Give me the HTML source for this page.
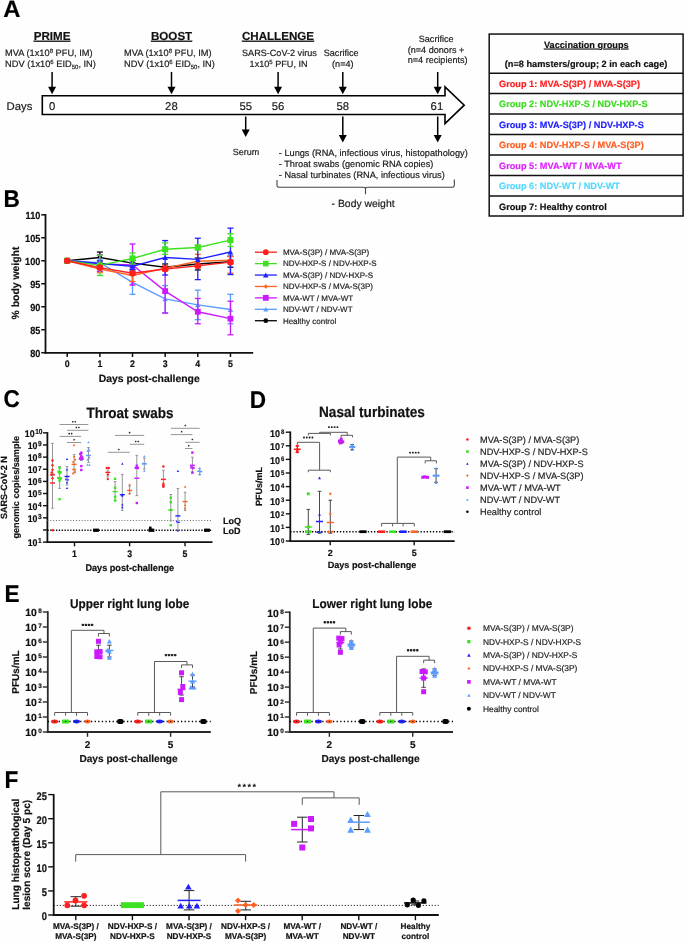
<!DOCTYPE html>
<html><head><meta charset="utf-8"><style>
html,body{margin:0;padding:0;background:#fff;}
svg{display:block;font-family:"Liberation Sans", sans-serif;will-change:transform;text-rendering:geometricPrecision;}
</style></head><body>
<svg width="685" height="942" viewBox="0 0 685 942">
<rect x="0" y="0" width="685" height="942" fill="#fefefe"/>
<text x="3.20" y="17.40" font-size="23.8" font-weight="bold" stroke="#000" stroke-width="0.18" text-anchor="start" fill="#000" >A</text>
<text x="52.10" y="39.70" font-size="11.6" font-weight="bold" stroke="#111" stroke-width="0.18" text-anchor="middle" fill="#111" text-decoration="underline">PRIME</text>
<text x="171.60" y="39.70" font-size="11.6" font-weight="bold" stroke="#111" stroke-width="0.18" text-anchor="middle" fill="#111" text-decoration="underline">BOOST</text>
<text x="278.00" y="39.70" font-size="11.6" font-weight="bold" stroke="#111" stroke-width="0.18" text-anchor="middle" fill="#111" text-decoration="underline">CHALLENGE</text>
<text x="5.10" y="56.20" font-size="9.25" stroke="#1a1a1a" stroke-width="0.18" text-anchor="start" fill="#1a1a1a" >MVA (1x10<tspan font-size="6" dy="-3.3">8</tspan><tspan dy="3.3"> PFU, IM)</tspan></text>
<text x="5.10" y="67.20" font-size="9.25" stroke="#1a1a1a" stroke-width="0.18" text-anchor="start" fill="#1a1a1a" >NDV (1x10<tspan font-size="6" dy="-3.3">6</tspan><tspan dy="3.3"> EID</tspan><tspan font-size="6" dy="2">50</tspan><tspan dy="-2">, IN)</tspan></text>
<text x="124.10" y="56.20" font-size="9.25" stroke="#1a1a1a" stroke-width="0.18" text-anchor="start" fill="#1a1a1a" >MVA (1x10<tspan font-size="6" dy="-3.3">8</tspan><tspan dy="3.3"> PFU, IM)</tspan></text>
<text x="124.10" y="67.20" font-size="9.25" stroke="#1a1a1a" stroke-width="0.18" text-anchor="start" fill="#1a1a1a" >NDV (1x10<tspan font-size="6" dy="-3.3">6</tspan><tspan dy="3.3"> EID</tspan><tspan font-size="6" dy="2">50</tspan><tspan dy="-2">, IN)</tspan></text>
<text x="242.00" y="56.20" font-size="9.1" stroke="#1a1a1a" stroke-width="0.18" text-anchor="start" fill="#1a1a1a" >SARS-CoV-2 virus</text>
<text x="249.60" y="67.20" font-size="9.1" stroke="#1a1a1a" stroke-width="0.18" text-anchor="start" fill="#1a1a1a" >1x10<tspan font-size="6" dy="-3.3">5</tspan><tspan dy="3.3"> PFU, IN</tspan></text>
<text x="341.20" y="56.30" font-size="9.1" stroke="#1a1a1a" stroke-width="0.18" text-anchor="middle" fill="#1a1a1a" >Sacrifice</text>
<text x="342.80" y="67.20" font-size="9.1" stroke="#1a1a1a" stroke-width="0.18" text-anchor="middle" fill="#1a1a1a" >(n=4)</text>
<text x="436.20" y="42.20" font-size="9.1" stroke="#1a1a1a" stroke-width="0.18" text-anchor="middle" fill="#1a1a1a" >Sacrifice</text>
<text x="436.00" y="52.90" font-size="9.1" stroke="#1a1a1a" stroke-width="0.18" text-anchor="middle" fill="#1a1a1a" >(n=4 donors +</text>
<text x="437.70" y="63.40" font-size="9.1" stroke="#1a1a1a" stroke-width="0.18" text-anchor="middle" fill="#1a1a1a" >n=4 recipients)</text>
<line x1="52.10" y1="72.00" x2="52.10" y2="87.70" stroke="#000" stroke-width="1.5" />
<path d="M48.10,86.70 L56.10,86.70 L52.10,94.20 Z" fill="#000"/>
<line x1="171.50" y1="72.00" x2="171.50" y2="87.70" stroke="#000" stroke-width="1.5" />
<path d="M167.50,86.70 L175.50,86.70 L171.50,94.20 Z" fill="#000"/>
<line x1="278.10" y1="72.00" x2="278.10" y2="87.70" stroke="#000" stroke-width="1.5" />
<path d="M274.10,86.70 L282.10,86.70 L278.10,94.20 Z" fill="#000"/>
<line x1="342.80" y1="72.00" x2="342.80" y2="87.70" stroke="#000" stroke-width="1.5" />
<path d="M338.80,86.70 L346.80,86.70 L342.80,94.20 Z" fill="#000"/>
<line x1="437.70" y1="72.00" x2="437.70" y2="87.70" stroke="#000" stroke-width="1.5" />
<path d="M433.70,86.70 L441.70,86.70 L437.70,94.20 Z" fill="#000"/>
<path d="M42.3,95.7 L445,95.7 L445,86.9 L464.2,105.2 L445,123.6 L445,114.5 L42.3,114.5 Z" stroke="#000" stroke-width="1.6" fill="#fff" />
<text x="6.60" y="109.60" font-size="11.3" stroke="#1a1a1a" stroke-width="0.18" text-anchor="start" fill="#1a1a1a" >Days</text>
<text x="52.10" y="109.60" font-size="11.3" stroke="#1a1a1a" stroke-width="0.18" text-anchor="middle" fill="#1a1a1a" >0</text>
<text x="171.40" y="109.60" font-size="11.3" stroke="#1a1a1a" stroke-width="0.18" text-anchor="middle" fill="#1a1a1a" >28</text>
<text x="245.70" y="109.60" font-size="11.3" stroke="#1a1a1a" stroke-width="0.18" text-anchor="middle" fill="#1a1a1a" >55</text>
<text x="278.00" y="109.60" font-size="11.3" stroke="#1a1a1a" stroke-width="0.18" text-anchor="middle" fill="#1a1a1a" >56</text>
<text x="342.80" y="109.60" font-size="11.3" stroke="#1a1a1a" stroke-width="0.18" text-anchor="middle" fill="#1a1a1a" >58</text>
<text x="436.90" y="109.60" font-size="11.3" stroke="#1a1a1a" stroke-width="0.18" text-anchor="middle" fill="#1a1a1a" >61</text>
<line x1="245.70" y1="116.50" x2="245.70" y2="130.50" stroke="#000" stroke-width="1.5" />
<path d="M241.70,129.50 L249.70,129.50 L245.70,137.00 Z" fill="#000"/>
<line x1="342.80" y1="116.50" x2="342.80" y2="136.00" stroke="#000" stroke-width="1.5" />
<path d="M338.80,135.00 L346.80,135.00 L342.80,142.50 Z" fill="#000"/>
<line x1="437.70" y1="116.50" x2="437.70" y2="136.00" stroke="#000" stroke-width="1.5" />
<path d="M433.70,135.00 L441.70,135.00 L437.70,142.50 Z" fill="#000"/>
<text x="245.90" y="155.10" font-size="9.0" stroke="#1a1a1a" stroke-width="0.18" text-anchor="middle" fill="#1a1a1a" >Serum</text>
<text x="278.80" y="156.00" font-size="9.2" stroke="#1a1a1a" stroke-width="0.18" text-anchor="start" fill="#1a1a1a" >- Lungs (RNA, infectious virus, histopathology)</text>
<text x="278.80" y="167.20" font-size="9.2" stroke="#1a1a1a" stroke-width="0.18" text-anchor="start" fill="#1a1a1a" >- Throat swabs (genomic RNA copies)</text>
<text x="278.80" y="178.20" font-size="9.2" stroke="#1a1a1a" stroke-width="0.18" text-anchor="start" fill="#1a1a1a" >- Nasal turbinates (RNA, infectious virus)</text>
<path d="M277,180 L277,185.5 Q277,187.2 279,187.2 L363.5,187.2 Q365.5,187.2 365.5,189 L365.5,194.2 M365.5,189 Q365.5,187.2 367.5,187.2 L452.3,187.2 Q454.3,187.2 454.3,185.5 L454.3,179.6" stroke="#444" stroke-width="1.1" fill="none" />
<text x="331.60" y="207.10" font-size="10.4" stroke="#1a1a1a" stroke-width="0.18" text-anchor="start" fill="#1a1a1a" >- Body weight</text>
<rect x="489.20" y="34.05" width="193.90" height="181.95" fill="none" stroke="#111" stroke-width="1.5" />
<text x="586.30" y="47.60" font-size="9.2" font-weight="bold" stroke="#111" stroke-width="0.18" text-anchor="middle" fill="#111" text-decoration="underline">Vaccination groups</text>
<text x="586.10" y="66.60" font-size="9.2" font-weight="bold" stroke="#111" stroke-width="0.18" text-anchor="middle" fill="#111" >(n=8 hamsters/group; 2 in each cage)</text>
<line x1="489.20" y1="73.20" x2="683.10" y2="73.20" stroke="#111" stroke-width="1.5" />
<line x1="489.20" y1="93.60" x2="683.10" y2="93.60" stroke="#111" stroke-width="1.5" />
<line x1="489.20" y1="114.10" x2="683.10" y2="114.10" stroke="#111" stroke-width="1.5" />
<line x1="489.20" y1="134.60" x2="683.10" y2="134.60" stroke="#111" stroke-width="1.5" />
<line x1="489.20" y1="155.00" x2="683.10" y2="155.00" stroke="#111" stroke-width="1.5" />
<line x1="489.20" y1="175.50" x2="683.10" y2="175.50" stroke="#111" stroke-width="1.5" />
<line x1="489.20" y1="195.90" x2="683.10" y2="195.90" stroke="#111" stroke-width="1.5" />
<text x="499.00" y="87.00" font-size="9.2" font-weight="bold" stroke="#ff1f1f" stroke-width="0.18" text-anchor="start" fill="#ff1f1f" >Group 1: MVA-S(3P) / MVA-S(3P)</text>
<text x="499.00" y="107.40" font-size="9.2" font-weight="bold" stroke="#3ddc22" stroke-width="0.18" text-anchor="start" fill="#3ddc22" >Group 2: NDV-HXP-S / NDV-HXP-S</text>
<text x="499.00" y="127.90" font-size="9.2" font-weight="bold" stroke="#1f1fff" stroke-width="0.18" text-anchor="start" fill="#1f1fff" >Group 3: MVA-S(3P) / NDV-HXP-S</text>
<text x="499.00" y="148.40" font-size="9.2" font-weight="bold" stroke="#ff5f22" stroke-width="0.18" text-anchor="start" fill="#ff5f22" >Group 4: NDV-HXP-S / MVA-S(3P)</text>
<text x="499.00" y="168.80" font-size="9.2" font-weight="bold" stroke="#dd22ff" stroke-width="0.18" text-anchor="start" fill="#dd22ff" >Group 5: MVA-WT / MVA-WT</text>
<text x="499.00" y="189.30" font-size="9.2" font-weight="bold" stroke="#55d8ff" stroke-width="0.18" text-anchor="start" fill="#55d8ff" >Group 6: NDV-WT / NDV-WT</text>
<text x="499.00" y="209.70" font-size="9.2" font-weight="bold" stroke="#111" stroke-width="0.18" text-anchor="start" fill="#111" >Group 7: Healthy control</text>
<text x="0" y="0" transform="translate(3.60,206.60) scale(1,1.07)" font-size="22.6" font-weight="bold" stroke="#000" stroke-width="0.18" text-anchor="start" fill="#000" >B</text>
<line x1="45.50" y1="214.00" x2="45.50" y2="353.60" stroke="#111" stroke-width="1.8" />
<line x1="44.60" y1="352.90" x2="253.20" y2="352.90" stroke="#111" stroke-width="1.8" />
<line x1="41.20" y1="352.70" x2="45.50" y2="352.70" stroke="#111" stroke-width="1.5" />
<text x="0" y="0" transform="translate(40.30,356.77) scale(1,1.12)" font-size="9.15" font-weight="bold" stroke="#111" stroke-width="0.18" text-anchor="end" fill="#111" >80</text>
<line x1="41.20" y1="329.72" x2="45.50" y2="329.72" stroke="#111" stroke-width="1.5" />
<text x="0" y="0" transform="translate(40.30,333.79) scale(1,1.12)" font-size="9.15" font-weight="bold" stroke="#111" stroke-width="0.18" text-anchor="end" fill="#111" >85</text>
<line x1="41.20" y1="306.74" x2="45.50" y2="306.74" stroke="#111" stroke-width="1.5" />
<text x="0" y="0" transform="translate(40.30,310.81) scale(1,1.12)" font-size="9.15" font-weight="bold" stroke="#111" stroke-width="0.18" text-anchor="end" fill="#111" >90</text>
<line x1="41.20" y1="283.76" x2="45.50" y2="283.76" stroke="#111" stroke-width="1.5" />
<text x="0" y="0" transform="translate(40.30,287.83) scale(1,1.12)" font-size="9.15" font-weight="bold" stroke="#111" stroke-width="0.18" text-anchor="end" fill="#111" >95</text>
<line x1="41.20" y1="260.78" x2="45.50" y2="260.78" stroke="#111" stroke-width="1.5" />
<text x="0" y="0" transform="translate(40.30,264.85) scale(1,1.12)" font-size="9.15" font-weight="bold" stroke="#111" stroke-width="0.18" text-anchor="end" fill="#111" >100</text>
<line x1="41.20" y1="237.80" x2="45.50" y2="237.80" stroke="#111" stroke-width="1.5" />
<text x="0" y="0" transform="translate(40.30,241.87) scale(1,1.12)" font-size="9.15" font-weight="bold" stroke="#111" stroke-width="0.18" text-anchor="end" fill="#111" >105</text>
<line x1="41.20" y1="214.82" x2="45.50" y2="214.82" stroke="#111" stroke-width="1.5" />
<text x="0" y="0" transform="translate(40.30,218.89) scale(1,1.12)" font-size="9.15" font-weight="bold" stroke="#111" stroke-width="0.18" text-anchor="end" fill="#111" >110</text>
<line x1="67.20" y1="352.90" x2="67.20" y2="357.00" stroke="#111" stroke-width="1.5" />
<text x="0" y="0" transform="translate(67.20,366.80) scale(1,1.08)" font-size="8.8" font-weight="bold" stroke="#111" stroke-width="0.18" text-anchor="middle" fill="#111" >0</text>
<line x1="99.85" y1="352.90" x2="99.85" y2="357.00" stroke="#111" stroke-width="1.5" />
<text x="0" y="0" transform="translate(99.85,366.80) scale(1,1.08)" font-size="8.8" font-weight="bold" stroke="#111" stroke-width="0.18" text-anchor="middle" fill="#111" >1</text>
<line x1="132.50" y1="352.90" x2="132.50" y2="357.00" stroke="#111" stroke-width="1.5" />
<text x="0" y="0" transform="translate(132.50,366.80) scale(1,1.08)" font-size="8.8" font-weight="bold" stroke="#111" stroke-width="0.18" text-anchor="middle" fill="#111" >2</text>
<line x1="165.15" y1="352.90" x2="165.15" y2="357.00" stroke="#111" stroke-width="1.5" />
<text x="0" y="0" transform="translate(165.15,366.80) scale(1,1.08)" font-size="8.8" font-weight="bold" stroke="#111" stroke-width="0.18" text-anchor="middle" fill="#111" >3</text>
<line x1="197.80" y1="352.90" x2="197.80" y2="357.00" stroke="#111" stroke-width="1.5" />
<text x="0" y="0" transform="translate(197.80,366.80) scale(1,1.08)" font-size="8.8" font-weight="bold" stroke="#111" stroke-width="0.18" text-anchor="middle" fill="#111" >4</text>
<line x1="230.45" y1="352.90" x2="230.45" y2="357.00" stroke="#111" stroke-width="1.5" />
<text x="0" y="0" transform="translate(230.45,366.80) scale(1,1.08)" font-size="8.8" font-weight="bold" stroke="#111" stroke-width="0.18" text-anchor="middle" fill="#111" >5</text>
<text x="149.20" y="382.20" font-size="10.4" font-weight="bold" stroke="#111" stroke-width="0.18" text-anchor="middle" fill="#111" >Days post-challenge</text>
<text x="0.00" y="0.00" font-size="10.4" font-weight="bold" stroke="#111" stroke-width="0.18" text-anchor="middle" fill="#111" transform="translate(19.4,283) rotate(-90)">% body weight</text>
<polyline points="67.20,260.78 99.85,257.56 132.50,263.08 165.15,267.21 197.80,264.00 230.45,261.70" fill="none" stroke="#000" stroke-width="1.4"/>
<line x1="99.85" y1="252.05" x2="99.85" y2="263.08" stroke="#000" stroke-width="1.3" />
<line x1="96.85" y1="252.05" x2="102.85" y2="252.05" stroke="#000" stroke-width="1.3" />
<line x1="96.85" y1="263.08" x2="102.85" y2="263.08" stroke="#000" stroke-width="1.3" />
<line x1="132.50" y1="260.32" x2="132.50" y2="265.84" stroke="#000" stroke-width="1.3" />
<line x1="129.50" y1="260.32" x2="135.50" y2="260.32" stroke="#000" stroke-width="1.3" />
<line x1="129.50" y1="265.84" x2="135.50" y2="265.84" stroke="#000" stroke-width="1.3" />
<line x1="165.15" y1="264.00" x2="165.15" y2="270.43" stroke="#000" stroke-width="1.3" />
<line x1="162.15" y1="264.00" x2="168.15" y2="264.00" stroke="#000" stroke-width="1.3" />
<line x1="162.15" y1="270.43" x2="168.15" y2="270.43" stroke="#000" stroke-width="1.3" />
<line x1="197.80" y1="258.02" x2="197.80" y2="269.97" stroke="#000" stroke-width="1.3" />
<line x1="194.80" y1="258.02" x2="200.80" y2="258.02" stroke="#000" stroke-width="1.3" />
<line x1="194.80" y1="269.97" x2="200.80" y2="269.97" stroke="#000" stroke-width="1.3" />
<line x1="230.45" y1="256.18" x2="230.45" y2="267.21" stroke="#000" stroke-width="1.3" />
<line x1="227.45" y1="256.18" x2="233.45" y2="256.18" stroke="#000" stroke-width="1.3" />
<line x1="227.45" y1="267.21" x2="233.45" y2="267.21" stroke="#000" stroke-width="1.3" />
<circle cx="67.20" cy="260.78" r="2.30" fill="#000"/>
<circle cx="99.85" cy="257.56" r="2.30" fill="#000"/>
<circle cx="132.50" cy="263.08" r="2.30" fill="#000"/>
<circle cx="165.15" cy="267.21" r="2.30" fill="#000"/>
<circle cx="197.80" cy="264.00" r="2.30" fill="#000"/>
<circle cx="230.45" cy="261.70" r="2.30" fill="#000"/>
<polyline points="67.20,260.78 99.85,262.62 132.50,282.38 165.15,298.93 197.80,304.90 230.45,309.50" fill="none" stroke="#5a9cff" stroke-width="1.4"/>
<line x1="99.85" y1="258.94" x2="99.85" y2="266.30" stroke="#5a9cff" stroke-width="1.3" />
<line x1="96.85" y1="258.94" x2="102.85" y2="258.94" stroke="#5a9cff" stroke-width="1.3" />
<line x1="96.85" y1="266.30" x2="102.85" y2="266.30" stroke="#5a9cff" stroke-width="1.3" />
<line x1="132.50" y1="270.43" x2="132.50" y2="294.33" stroke="#5a9cff" stroke-width="1.3" />
<line x1="129.50" y1="270.43" x2="135.50" y2="270.43" stroke="#5a9cff" stroke-width="1.3" />
<line x1="129.50" y1="294.33" x2="135.50" y2="294.33" stroke="#5a9cff" stroke-width="1.3" />
<line x1="165.15" y1="285.60" x2="165.15" y2="312.71" stroke="#5a9cff" stroke-width="1.3" />
<line x1="162.15" y1="285.60" x2="168.15" y2="285.60" stroke="#5a9cff" stroke-width="1.3" />
<line x1="162.15" y1="312.71" x2="168.15" y2="312.71" stroke="#5a9cff" stroke-width="1.3" />
<line x1="197.80" y1="290.19" x2="197.80" y2="319.61" stroke="#5a9cff" stroke-width="1.3" />
<line x1="194.80" y1="290.19" x2="200.80" y2="290.19" stroke="#5a9cff" stroke-width="1.3" />
<line x1="194.80" y1="319.61" x2="200.80" y2="319.61" stroke="#5a9cff" stroke-width="1.3" />
<line x1="230.45" y1="294.33" x2="230.45" y2="323.75" stroke="#5a9cff" stroke-width="1.3" />
<line x1="227.45" y1="294.33" x2="233.45" y2="294.33" stroke="#5a9cff" stroke-width="1.3" />
<line x1="227.45" y1="323.75" x2="233.45" y2="323.75" stroke="#5a9cff" stroke-width="1.3" />
<path d="M64.50,263.21 L69.90,263.21 L67.20,258.35 Z" fill="#5a9cff"/>
<path d="M97.15,265.05 L102.55,265.05 L99.85,260.19 Z" fill="#5a9cff"/>
<path d="M129.80,284.81 L135.20,284.81 L132.50,279.95 Z" fill="#5a9cff"/>
<path d="M162.45,301.36 L167.85,301.36 L165.15,296.50 Z" fill="#5a9cff"/>
<path d="M195.10,307.33 L200.50,307.33 L197.80,302.47 Z" fill="#5a9cff"/>
<path d="M227.75,311.93 L233.15,311.93 L230.45,307.07 Z" fill="#5a9cff"/>
<polyline points="67.20,260.78 99.85,264.00 132.50,264.92 165.15,291.11 197.80,311.80 230.45,318.69" fill="none" stroke="#cc1aff" stroke-width="1.4"/>
<line x1="99.85" y1="254.81" x2="99.85" y2="271.35" stroke="#cc1aff" stroke-width="1.3" />
<line x1="96.85" y1="254.81" x2="102.85" y2="254.81" stroke="#cc1aff" stroke-width="1.3" />
<line x1="96.85" y1="271.35" x2="102.85" y2="271.35" stroke="#cc1aff" stroke-width="1.3" />
<line x1="132.50" y1="244.00" x2="132.50" y2="285.14" stroke="#cc1aff" stroke-width="1.3" />
<line x1="129.50" y1="244.00" x2="135.50" y2="244.00" stroke="#cc1aff" stroke-width="1.3" />
<line x1="129.50" y1="285.14" x2="135.50" y2="285.14" stroke="#cc1aff" stroke-width="1.3" />
<line x1="165.15" y1="269.05" x2="165.15" y2="313.17" stroke="#cc1aff" stroke-width="1.3" />
<line x1="162.15" y1="269.05" x2="168.15" y2="269.05" stroke="#cc1aff" stroke-width="1.3" />
<line x1="162.15" y1="313.17" x2="168.15" y2="313.17" stroke="#cc1aff" stroke-width="1.3" />
<line x1="197.80" y1="298.47" x2="197.80" y2="323.75" stroke="#cc1aff" stroke-width="1.3" />
<line x1="194.80" y1="298.47" x2="200.80" y2="298.47" stroke="#cc1aff" stroke-width="1.3" />
<line x1="194.80" y1="323.75" x2="200.80" y2="323.75" stroke="#cc1aff" stroke-width="1.3" />
<line x1="230.45" y1="301.22" x2="230.45" y2="334.78" stroke="#cc1aff" stroke-width="1.3" />
<line x1="227.45" y1="301.22" x2="233.45" y2="301.22" stroke="#cc1aff" stroke-width="1.3" />
<line x1="227.45" y1="334.78" x2="233.45" y2="334.78" stroke="#cc1aff" stroke-width="1.3" />
<rect x="64.30" y="257.88" width="5.80" height="5.80" fill="#cc1aff" stroke="none" stroke-width="0" />
<rect x="96.95" y="261.10" width="5.80" height="5.80" fill="#cc1aff" stroke="none" stroke-width="0" />
<rect x="129.60" y="262.02" width="5.80" height="5.80" fill="#cc1aff" stroke="none" stroke-width="0" />
<rect x="162.25" y="288.21" width="5.80" height="5.80" fill="#cc1aff" stroke="none" stroke-width="0" />
<rect x="194.90" y="308.90" width="5.80" height="5.80" fill="#cc1aff" stroke="none" stroke-width="0" />
<rect x="227.55" y="315.79" width="5.80" height="5.80" fill="#cc1aff" stroke="none" stroke-width="0" />
<polyline points="67.20,260.78 99.85,269.05 132.50,275.49 165.15,268.13 197.80,261.24 230.45,260.32" fill="none" stroke="#ff6222" stroke-width="1.4"/>
<line x1="99.85" y1="265.38" x2="99.85" y2="272.73" stroke="#ff6222" stroke-width="1.3" />
<line x1="96.85" y1="265.38" x2="102.85" y2="265.38" stroke="#ff6222" stroke-width="1.3" />
<line x1="96.85" y1="272.73" x2="102.85" y2="272.73" stroke="#ff6222" stroke-width="1.3" />
<line x1="132.50" y1="269.51" x2="132.50" y2="281.46" stroke="#ff6222" stroke-width="1.3" />
<line x1="129.50" y1="269.51" x2="135.50" y2="269.51" stroke="#ff6222" stroke-width="1.3" />
<line x1="129.50" y1="281.46" x2="135.50" y2="281.46" stroke="#ff6222" stroke-width="1.3" />
<line x1="165.15" y1="265.38" x2="165.15" y2="270.89" stroke="#ff6222" stroke-width="1.3" />
<line x1="162.15" y1="265.38" x2="168.15" y2="265.38" stroke="#ff6222" stroke-width="1.3" />
<line x1="162.15" y1="270.89" x2="168.15" y2="270.89" stroke="#ff6222" stroke-width="1.3" />
<line x1="197.80" y1="254.35" x2="197.80" y2="267.67" stroke="#ff6222" stroke-width="1.3" />
<line x1="194.80" y1="254.35" x2="200.80" y2="254.35" stroke="#ff6222" stroke-width="1.3" />
<line x1="194.80" y1="267.67" x2="200.80" y2="267.67" stroke="#ff6222" stroke-width="1.3" />
<line x1="230.45" y1="256.64" x2="230.45" y2="273.19" stroke="#ff6222" stroke-width="1.3" />
<line x1="227.45" y1="256.64" x2="233.45" y2="256.64" stroke="#ff6222" stroke-width="1.3" />
<line x1="227.45" y1="273.19" x2="233.45" y2="273.19" stroke="#ff6222" stroke-width="1.3" />
<path d="M64.90,260.78 L67.20,258.48 L69.50,260.78 L67.20,263.08 Z" fill="#ff6222"/>
<path d="M97.55,269.05 L99.85,266.75 L102.15,269.05 L99.85,271.35 Z" fill="#ff6222"/>
<path d="M130.20,275.49 L132.50,273.19 L134.80,275.49 L132.50,277.79 Z" fill="#ff6222"/>
<path d="M162.85,268.13 L165.15,265.83 L167.45,268.13 L165.15,270.43 Z" fill="#ff6222"/>
<path d="M195.50,261.24 L197.80,258.94 L200.10,261.24 L197.80,263.54 Z" fill="#ff6222"/>
<path d="M228.15,260.32 L230.45,258.02 L232.75,260.32 L230.45,262.62 Z" fill="#ff6222"/>
<polyline points="67.20,260.78 99.85,263.54 132.50,266.30 165.15,257.56 197.80,259.40 230.45,252.05" fill="none" stroke="#2020ff" stroke-width="1.4"/>
<line x1="99.85" y1="260.78" x2="99.85" y2="266.30" stroke="#2020ff" stroke-width="1.3" />
<line x1="96.85" y1="260.78" x2="102.85" y2="260.78" stroke="#2020ff" stroke-width="1.3" />
<line x1="96.85" y1="266.30" x2="102.85" y2="266.30" stroke="#2020ff" stroke-width="1.3" />
<line x1="132.50" y1="263.08" x2="132.50" y2="269.51" stroke="#2020ff" stroke-width="1.3" />
<line x1="129.50" y1="263.08" x2="135.50" y2="263.08" stroke="#2020ff" stroke-width="1.3" />
<line x1="129.50" y1="269.51" x2="135.50" y2="269.51" stroke="#2020ff" stroke-width="1.3" />
<line x1="165.15" y1="240.56" x2="165.15" y2="275.03" stroke="#2020ff" stroke-width="1.3" />
<line x1="162.15" y1="240.56" x2="168.15" y2="240.56" stroke="#2020ff" stroke-width="1.3" />
<line x1="162.15" y1="275.03" x2="168.15" y2="275.03" stroke="#2020ff" stroke-width="1.3" />
<line x1="197.80" y1="238.26" x2="197.80" y2="279.62" stroke="#2020ff" stroke-width="1.3" />
<line x1="194.80" y1="238.26" x2="200.80" y2="238.26" stroke="#2020ff" stroke-width="1.3" />
<line x1="194.80" y1="279.62" x2="200.80" y2="279.62" stroke="#2020ff" stroke-width="1.3" />
<line x1="230.45" y1="228.15" x2="230.45" y2="274.57" stroke="#2020ff" stroke-width="1.3" />
<line x1="227.45" y1="228.15" x2="233.45" y2="228.15" stroke="#2020ff" stroke-width="1.3" />
<line x1="227.45" y1="274.57" x2="233.45" y2="274.57" stroke="#2020ff" stroke-width="1.3" />
<path d="M64.40,263.30 L70.00,263.30 L67.20,258.26 Z" fill="#2020ff"/>
<path d="M97.05,266.06 L102.65,266.06 L99.85,261.02 Z" fill="#2020ff"/>
<path d="M129.70,268.82 L135.30,268.82 L132.50,263.78 Z" fill="#2020ff"/>
<path d="M162.35,260.08 L167.95,260.08 L165.15,255.04 Z" fill="#2020ff"/>
<path d="M195.00,261.92 L200.60,261.92 L197.80,256.88 Z" fill="#2020ff"/>
<path d="M227.65,254.57 L233.25,254.57 L230.45,249.53 Z" fill="#2020ff"/>
<polyline points="67.20,260.78 99.85,265.38 132.50,258.48 165.15,249.29 197.80,247.45 230.45,240.10" fill="none" stroke="#3ee022" stroke-width="1.4"/>
<line x1="99.85" y1="255.26" x2="99.85" y2="275.49" stroke="#3ee022" stroke-width="1.3" />
<line x1="96.85" y1="255.26" x2="102.85" y2="255.26" stroke="#3ee022" stroke-width="1.3" />
<line x1="96.85" y1="275.49" x2="102.85" y2="275.49" stroke="#3ee022" stroke-width="1.3" />
<line x1="132.50" y1="252.97" x2="132.50" y2="264.00" stroke="#3ee022" stroke-width="1.3" />
<line x1="129.50" y1="252.97" x2="135.50" y2="252.97" stroke="#3ee022" stroke-width="1.3" />
<line x1="129.50" y1="264.00" x2="135.50" y2="264.00" stroke="#3ee022" stroke-width="1.3" />
<line x1="165.15" y1="242.86" x2="165.15" y2="254.35" stroke="#3ee022" stroke-width="1.3" />
<line x1="162.15" y1="242.86" x2="168.15" y2="242.86" stroke="#3ee022" stroke-width="1.3" />
<line x1="162.15" y1="254.35" x2="168.15" y2="254.35" stroke="#3ee022" stroke-width="1.3" />
<line x1="197.80" y1="245.15" x2="197.80" y2="249.75" stroke="#3ee022" stroke-width="1.3" />
<line x1="194.80" y1="245.15" x2="200.80" y2="245.15" stroke="#3ee022" stroke-width="1.3" />
<line x1="194.80" y1="249.75" x2="200.80" y2="249.75" stroke="#3ee022" stroke-width="1.3" />
<line x1="230.45" y1="233.66" x2="230.45" y2="246.53" stroke="#3ee022" stroke-width="1.3" />
<line x1="227.45" y1="233.66" x2="233.45" y2="233.66" stroke="#3ee022" stroke-width="1.3" />
<line x1="227.45" y1="246.53" x2="233.45" y2="246.53" stroke="#3ee022" stroke-width="1.3" />
<rect x="64.15" y="257.73" width="6.10" height="6.10" fill="#3ee022" stroke="none" stroke-width="0" />
<rect x="96.80" y="262.33" width="6.10" height="6.10" fill="#3ee022" stroke="none" stroke-width="0" />
<rect x="129.45" y="255.43" width="6.10" height="6.10" fill="#3ee022" stroke="none" stroke-width="0" />
<rect x="162.10" y="246.24" width="6.10" height="6.10" fill="#3ee022" stroke="none" stroke-width="0" />
<rect x="194.75" y="244.40" width="6.10" height="6.10" fill="#3ee022" stroke="none" stroke-width="0" />
<rect x="227.40" y="237.05" width="6.10" height="6.10" fill="#3ee022" stroke="none" stroke-width="0" />
<polyline points="67.20,260.78 99.85,267.67 132.50,273.19 165.15,269.05 197.80,265.84 230.45,262.16" fill="none" stroke="#ff1f1f" stroke-width="1.4"/>
<line x1="99.85" y1="266.30" x2="99.85" y2="269.05" stroke="#ff1f1f" stroke-width="1.3" />
<line x1="96.85" y1="266.30" x2="102.85" y2="266.30" stroke="#ff1f1f" stroke-width="1.3" />
<line x1="96.85" y1="269.05" x2="102.85" y2="269.05" stroke="#ff1f1f" stroke-width="1.3" />
<line x1="132.50" y1="271.81" x2="132.50" y2="274.57" stroke="#ff1f1f" stroke-width="1.3" />
<line x1="129.50" y1="271.81" x2="135.50" y2="271.81" stroke="#ff1f1f" stroke-width="1.3" />
<line x1="129.50" y1="274.57" x2="135.50" y2="274.57" stroke="#ff1f1f" stroke-width="1.3" />
<line x1="165.15" y1="267.67" x2="165.15" y2="270.43" stroke="#ff1f1f" stroke-width="1.3" />
<line x1="162.15" y1="267.67" x2="168.15" y2="267.67" stroke="#ff1f1f" stroke-width="1.3" />
<line x1="162.15" y1="270.43" x2="168.15" y2="270.43" stroke="#ff1f1f" stroke-width="1.3" />
<line x1="197.80" y1="264.46" x2="197.80" y2="267.21" stroke="#ff1f1f" stroke-width="1.3" />
<line x1="194.80" y1="264.46" x2="200.80" y2="264.46" stroke="#ff1f1f" stroke-width="1.3" />
<line x1="194.80" y1="267.21" x2="200.80" y2="267.21" stroke="#ff1f1f" stroke-width="1.3" />
<line x1="230.45" y1="260.78" x2="230.45" y2="263.54" stroke="#ff1f1f" stroke-width="1.3" />
<line x1="227.45" y1="260.78" x2="233.45" y2="260.78" stroke="#ff1f1f" stroke-width="1.3" />
<line x1="227.45" y1="263.54" x2="233.45" y2="263.54" stroke="#ff1f1f" stroke-width="1.3" />
<circle cx="67.20" cy="260.78" r="3.30" fill="#ff1f1f"/>
<circle cx="99.85" cy="267.67" r="3.30" fill="#ff1f1f"/>
<circle cx="132.50" cy="273.19" r="3.30" fill="#ff1f1f"/>
<circle cx="165.15" cy="269.05" r="3.30" fill="#ff1f1f"/>
<circle cx="197.80" cy="265.84" r="3.30" fill="#ff1f1f"/>
<circle cx="230.45" cy="262.16" r="3.30" fill="#ff1f1f"/>
<line x1="254.90" y1="252.20" x2="276.90" y2="252.20" stroke="#ff1f1f" stroke-width="1.3" />
<circle cx="265.80" cy="252.20" r="2.90" fill="#ff1f1f"/>
<text x="282.90" y="255.00" font-size="8.0" stroke="#222" stroke-width="0.18" text-anchor="start" fill="#222" >MVA-S(3P) / MVA-S(3P)</text>
<line x1="254.90" y1="263.62" x2="276.90" y2="263.62" stroke="#3ee022" stroke-width="1.3" />
<rect x="263.00" y="260.82" width="5.60" height="5.60" fill="#3ee022" stroke="none" stroke-width="0" />
<text x="282.90" y="266.42" font-size="8.0" stroke="#222" stroke-width="0.18" text-anchor="start" fill="#222" >NDV-HXP-S / NDV-HXP-S</text>
<line x1="254.90" y1="275.04" x2="276.90" y2="275.04" stroke="#2020ff" stroke-width="1.3" />
<path d="M263.00,277.56 L268.60,277.56 L265.80,272.52 Z" fill="#2020ff"/>
<text x="282.90" y="277.84" font-size="8.0" stroke="#222" stroke-width="0.18" text-anchor="start" fill="#222" >MVA-S(3P) / NDV-HXP-S</text>
<line x1="254.90" y1="286.46" x2="276.90" y2="286.46" stroke="#ff6222" stroke-width="1.3" />
<path d="M263.60,286.46 L265.80,284.26 L268.00,286.46 L265.80,288.66 Z" fill="#ff6222"/>
<text x="282.90" y="289.26" font-size="8.0" stroke="#222" stroke-width="0.18" text-anchor="start" fill="#222" >NDV-HXP-S / MVA-S(3P)</text>
<line x1="254.90" y1="297.88" x2="276.90" y2="297.88" stroke="#cc1aff" stroke-width="1.3" />
<rect x="262.90" y="294.98" width="5.80" height="5.80" fill="#cc1aff" stroke="none" stroke-width="0" />
<text x="282.90" y="300.68" font-size="8.0" stroke="#222" stroke-width="0.18" text-anchor="start" fill="#222" >MVA-WT / MVA-WT</text>
<line x1="254.90" y1="309.30" x2="276.90" y2="309.30" stroke="#5a9cff" stroke-width="1.3" />
<path d="M263.30,311.55 L268.30,311.55 L265.80,307.05 Z" fill="#5a9cff"/>
<text x="282.90" y="312.10" font-size="8.0" stroke="#222" stroke-width="0.18" text-anchor="start" fill="#222" >NDV-WT / NDV-WT</text>
<line x1="254.90" y1="320.72" x2="276.90" y2="320.72" stroke="#000" stroke-width="1.3" />
<circle cx="265.80" cy="320.72" r="2.35" fill="#000"/>
<text x="282.90" y="323.52" font-size="8.0" stroke="#222" stroke-width="0.18" text-anchor="start" fill="#222" >Healthy control</text>
<text x="0" y="0" transform="translate(3.60,407.30) scale(1,1.07)" font-size="22.6" font-weight="bold" stroke="#000" stroke-width="0.18" text-anchor="start" fill="#000" >C</text>
<text x="0" y="0" transform="translate(130.00,417.80) scale(1,1.1)" font-size="13.5" font-weight="bold" stroke="#111" stroke-width="0.18" text-anchor="middle" fill="#111" >Throat swabs</text>
<line x1="47.40" y1="432.20" x2="47.40" y2="542.90" stroke="#111" stroke-width="1.8" />
<line x1="46.50" y1="542.20" x2="212.50" y2="542.20" stroke="#111" stroke-width="1.8" />
<line x1="43.00" y1="542.10" x2="47.40" y2="542.10" stroke="#111" stroke-width="1.4" />
<text x="0" y="0" transform="translate(37.50,545.93) scale(1,1.12)" font-size="8.8" font-weight="bold" stroke="#111" stroke-width="0.18" text-anchor="end" fill="#111" >10</text>
<text x="0" y="0" transform="translate(38.10,543.37) scale(1,1.1)" font-size="6.6" font-weight="bold" stroke="#111" stroke-width="0.18" text-anchor="start" fill="#111" >1</text>
<line x1="43.00" y1="529.96" x2="47.40" y2="529.96" stroke="#111" stroke-width="1.4" />
<line x1="43.00" y1="517.82" x2="47.40" y2="517.82" stroke="#111" stroke-width="1.4" />
<text x="0" y="0" transform="translate(37.50,521.65) scale(1,1.12)" font-size="8.8" font-weight="bold" stroke="#111" stroke-width="0.18" text-anchor="end" fill="#111" >10</text>
<text x="0" y="0" transform="translate(38.10,519.09) scale(1,1.1)" font-size="6.6" font-weight="bold" stroke="#111" stroke-width="0.18" text-anchor="start" fill="#111" >3</text>
<line x1="43.00" y1="505.68" x2="47.40" y2="505.68" stroke="#111" stroke-width="1.4" />
<text x="0" y="0" transform="translate(37.50,509.51) scale(1,1.12)" font-size="8.8" font-weight="bold" stroke="#111" stroke-width="0.18" text-anchor="end" fill="#111" >10</text>
<text x="0" y="0" transform="translate(38.10,506.95) scale(1,1.1)" font-size="6.6" font-weight="bold" stroke="#111" stroke-width="0.18" text-anchor="start" fill="#111" >4</text>
<line x1="43.00" y1="493.54" x2="47.40" y2="493.54" stroke="#111" stroke-width="1.4" />
<text x="0" y="0" transform="translate(37.50,497.37) scale(1,1.12)" font-size="8.8" font-weight="bold" stroke="#111" stroke-width="0.18" text-anchor="end" fill="#111" >10</text>
<text x="0" y="0" transform="translate(38.10,494.81) scale(1,1.1)" font-size="6.6" font-weight="bold" stroke="#111" stroke-width="0.18" text-anchor="start" fill="#111" >5</text>
<line x1="43.00" y1="481.40" x2="47.40" y2="481.40" stroke="#111" stroke-width="1.4" />
<text x="0" y="0" transform="translate(37.50,485.23) scale(1,1.12)" font-size="8.8" font-weight="bold" stroke="#111" stroke-width="0.18" text-anchor="end" fill="#111" >10</text>
<text x="0" y="0" transform="translate(38.10,482.67) scale(1,1.1)" font-size="6.6" font-weight="bold" stroke="#111" stroke-width="0.18" text-anchor="start" fill="#111" >6</text>
<line x1="43.00" y1="469.26" x2="47.40" y2="469.26" stroke="#111" stroke-width="1.4" />
<text x="0" y="0" transform="translate(37.50,473.09) scale(1,1.12)" font-size="8.8" font-weight="bold" stroke="#111" stroke-width="0.18" text-anchor="end" fill="#111" >10</text>
<text x="0" y="0" transform="translate(38.10,470.53) scale(1,1.1)" font-size="6.6" font-weight="bold" stroke="#111" stroke-width="0.18" text-anchor="start" fill="#111" >7</text>
<line x1="43.00" y1="457.12" x2="47.40" y2="457.12" stroke="#111" stroke-width="1.4" />
<text x="0" y="0" transform="translate(37.50,460.95) scale(1,1.12)" font-size="8.8" font-weight="bold" stroke="#111" stroke-width="0.18" text-anchor="end" fill="#111" >10</text>
<text x="0" y="0" transform="translate(38.10,458.39) scale(1,1.1)" font-size="6.6" font-weight="bold" stroke="#111" stroke-width="0.18" text-anchor="start" fill="#111" >8</text>
<line x1="43.00" y1="444.98" x2="47.40" y2="444.98" stroke="#111" stroke-width="1.4" />
<text x="0" y="0" transform="translate(37.50,448.81) scale(1,1.12)" font-size="8.8" font-weight="bold" stroke="#111" stroke-width="0.18" text-anchor="end" fill="#111" >10</text>
<text x="0" y="0" transform="translate(38.10,446.25) scale(1,1.1)" font-size="6.6" font-weight="bold" stroke="#111" stroke-width="0.18" text-anchor="start" fill="#111" >9</text>
<line x1="43.00" y1="432.84" x2="47.40" y2="432.84" stroke="#111" stroke-width="1.4" />
<text x="0" y="0" transform="translate(34.60,436.67) scale(1,1.12)" font-size="8.8" font-weight="bold" stroke="#111" stroke-width="0.18" text-anchor="end" fill="#111" >10</text>
<text x="0" y="0" transform="translate(35.20,434.11) scale(1,1.1)" font-size="6.6" font-weight="bold" stroke="#111" stroke-width="0.18" text-anchor="start" fill="#111" >10</text>
<line x1="74.50" y1="542.20" x2="74.50" y2="546.30" stroke="#111" stroke-width="1.4" />
<text x="0" y="0" transform="translate(74.50,557.10) scale(1,1.08)" font-size="8.8" font-weight="bold" stroke="#111" stroke-width="0.18" text-anchor="middle" fill="#111" >1</text>
<line x1="129.60" y1="542.20" x2="129.60" y2="546.30" stroke="#111" stroke-width="1.4" />
<text x="0" y="0" transform="translate(129.60,557.10) scale(1,1.08)" font-size="8.8" font-weight="bold" stroke="#111" stroke-width="0.18" text-anchor="middle" fill="#111" >3</text>
<line x1="185.00" y1="542.20" x2="185.00" y2="546.30" stroke="#111" stroke-width="1.4" />
<text x="0" y="0" transform="translate(185.00,557.10) scale(1,1.08)" font-size="8.8" font-weight="bold" stroke="#111" stroke-width="0.18" text-anchor="middle" fill="#111" >5</text>
<text x="0" y="0" transform="translate(129.80,571.20) scale(1,1.06)" font-size="9.15" font-weight="bold" stroke="#111" stroke-width="0.18" text-anchor="middle" fill="#111" >Days post-challenge</text>
<text x="0.00" y="0.00" font-size="9.05" font-weight="bold" stroke="#111" stroke-width="0.18" text-anchor="middle" fill="#111" transform="translate(7.2,487.6) rotate(-90)">SARS-CoV-2 N</text>
<text x="0.00" y="0.00" font-size="9.1" font-weight="bold" stroke="#111" stroke-width="0.18" text-anchor="middle" fill="#111" transform="translate(18.6,487.2) rotate(-90)">genomic copies/sample</text>
<line x1="47.40" y1="520.50" x2="212.50" y2="520.50" stroke="#666" stroke-width="0.9" stroke-dasharray="1.1 1.75"/>
<line x1="47.40" y1="530.30" x2="212.50" y2="530.30" stroke="#000" stroke-width="1.5" stroke-dasharray="1.3 1.55"/>
<text x="223.00" y="524.00" font-size="9.0" font-weight="bold" stroke="#111" stroke-width="0.18" text-anchor="start" fill="#111" >LoQ</text>
<text x="223.00" y="533.60" font-size="9.0" font-weight="bold" stroke="#111" stroke-width="0.18" text-anchor="start" fill="#111" >LoD</text>
<line x1="52.50" y1="443.40" x2="52.50" y2="508.20" stroke="#8a8a8a" stroke-width="0.9" />
<line x1="51.20" y1="443.40" x2="53.80" y2="443.40" stroke="#8a8a8a" stroke-width="0.9" />
<line x1="51.20" y1="508.20" x2="53.80" y2="508.20" stroke="#8a8a8a" stroke-width="0.9" />
<circle cx="52.50" cy="460.50" r="1.20" fill="#ff1f1f"/>
<circle cx="52.50" cy="465.20" r="1.20" fill="#ff1f1f"/>
<circle cx="52.50" cy="469.80" r="1.20" fill="#ff1f1f"/>
<circle cx="51.70" cy="472.40" r="1.20" fill="#ff1f1f"/>
<circle cx="53.70" cy="474.60" r="1.20" fill="#ff1f1f"/>
<circle cx="51.30" cy="474.80" r="1.20" fill="#ff1f1f"/>
<circle cx="52.50" cy="478.30" r="1.20" fill="#ff1f1f"/>
<circle cx="52.50" cy="530.30" r="1.20" fill="#ff1f1f"/>
<line x1="50.00" y1="483.00" x2="55.00" y2="483.00" stroke="#ff1f1f" stroke-width="1.4" />
<line x1="59.60" y1="466.50" x2="59.60" y2="488.40" stroke="#8a8a8a" stroke-width="0.9" />
<line x1="58.30" y1="466.50" x2="60.90" y2="466.50" stroke="#8a8a8a" stroke-width="0.9" />
<line x1="58.30" y1="488.40" x2="60.90" y2="488.40" stroke="#8a8a8a" stroke-width="0.9" />
<rect x="58.40" y="466.80" width="2.40" height="2.40" fill="#3ee022" stroke="none" stroke-width="0" />
<rect x="57.40" y="470.50" width="2.40" height="2.40" fill="#3ee022" stroke="none" stroke-width="0" />
<rect x="59.40" y="471.00" width="2.40" height="2.40" fill="#3ee022" stroke="none" stroke-width="0" />
<rect x="58.40" y="471.90" width="2.40" height="2.40" fill="#3ee022" stroke="none" stroke-width="0" />
<rect x="57.40" y="476.80" width="2.40" height="2.40" fill="#3ee022" stroke="none" stroke-width="0" />
<rect x="59.40" y="477.30" width="2.40" height="2.40" fill="#3ee022" stroke="none" stroke-width="0" />
<rect x="58.40" y="479.40" width="2.40" height="2.40" fill="#3ee022" stroke="none" stroke-width="0" />
<rect x="58.40" y="498.00" width="2.40" height="2.40" fill="#3ee022" stroke="none" stroke-width="0" />
<line x1="57.10" y1="478.20" x2="62.10" y2="478.20" stroke="#3ee022" stroke-width="1.4" />
<line x1="67.00" y1="466.50" x2="67.00" y2="485.00" stroke="#8a8a8a" stroke-width="0.9" />
<line x1="65.70" y1="466.50" x2="68.30" y2="466.50" stroke="#8a8a8a" stroke-width="0.9" />
<line x1="65.70" y1="485.00" x2="68.30" y2="485.00" stroke="#8a8a8a" stroke-width="0.9" />
<path d="M65.80,460.08 L68.20,460.08 L67.00,457.92 Z" fill="#2020ff"/>
<path d="M65.80,470.48 L68.20,470.48 L67.00,468.32 Z" fill="#2020ff"/>
<path d="M65.80,477.18 L68.20,477.18 L67.00,475.02 Z" fill="#2020ff"/>
<path d="M64.80,480.18 L67.20,480.18 L66.00,478.02 Z" fill="#2020ff"/>
<path d="M66.80,480.38 L69.20,480.38 L68.00,478.22 Z" fill="#2020ff"/>
<path d="M65.80,483.48 L68.20,483.48 L67.00,481.32 Z" fill="#2020ff"/>
<path d="M65.80,489.08 L68.20,489.08 L67.00,486.92 Z" fill="#2020ff"/>
<line x1="64.50" y1="476.50" x2="69.50" y2="476.50" stroke="#2020ff" stroke-width="1.4" />
<line x1="74.10" y1="454.60" x2="74.10" y2="472.80" stroke="#8a8a8a" stroke-width="0.9" />
<line x1="72.80" y1="454.60" x2="75.40" y2="454.60" stroke="#8a8a8a" stroke-width="0.9" />
<line x1="72.80" y1="472.80" x2="75.40" y2="472.80" stroke="#8a8a8a" stroke-width="0.9" />
<path d="M72.90,445.30 L74.10,444.10 L75.30,445.30 L74.10,446.50 Z" fill="#ff6222"/>
<path d="M72.90,456.80 L74.10,455.60 L75.30,456.80 L74.10,458.00 Z" fill="#ff6222"/>
<path d="M73.90,459.80 L75.10,458.60 L76.30,459.80 L75.10,461.00 Z" fill="#ff6222"/>
<path d="M71.90,462.00 L73.10,460.80 L74.30,462.00 L73.10,463.20 Z" fill="#ff6222"/>
<path d="M71.90,469.40 L73.10,468.20 L74.30,469.40 L73.10,470.60 Z" fill="#ff6222"/>
<path d="M73.90,469.80 L75.10,468.60 L76.30,469.80 L75.10,471.00 Z" fill="#ff6222"/>
<path d="M73.90,472.00 L75.10,470.80 L76.30,472.00 L75.10,473.20 Z" fill="#ff6222"/>
<path d="M71.90,473.50 L73.10,472.30 L74.30,473.50 L73.10,474.70 Z" fill="#ff6222"/>
<line x1="71.60" y1="464.40" x2="76.60" y2="464.40" stroke="#ff6222" stroke-width="1.4" />
<line x1="81.30" y1="453.50" x2="81.30" y2="460.50" stroke="#8a8a8a" stroke-width="0.9" />
<line x1="80.00" y1="453.50" x2="82.60" y2="453.50" stroke="#8a8a8a" stroke-width="0.9" />
<line x1="80.00" y1="460.50" x2="82.60" y2="460.50" stroke="#8a8a8a" stroke-width="0.9" />
<rect x="80.10" y="451.50" width="2.40" height="2.40" fill="#cc1aff" stroke="none" stroke-width="0" />
<rect x="79.10" y="452.80" width="2.40" height="2.40" fill="#cc1aff" stroke="none" stroke-width="0" />
<rect x="80.10" y="455.10" width="2.40" height="2.40" fill="#cc1aff" stroke="none" stroke-width="0" />
<rect x="81.10" y="456.30" width="2.40" height="2.40" fill="#cc1aff" stroke="none" stroke-width="0" />
<rect x="79.10" y="457.10" width="2.40" height="2.40" fill="#cc1aff" stroke="none" stroke-width="0" />
<rect x="80.10" y="457.80" width="2.40" height="2.40" fill="#cc1aff" stroke="none" stroke-width="0" />
<rect x="80.10" y="464.90" width="2.40" height="2.40" fill="#cc1aff" stroke="none" stroke-width="0" />
<rect x="80.10" y="468.80" width="2.40" height="2.40" fill="#cc1aff" stroke="none" stroke-width="0" />
<line x1="78.80" y1="459.20" x2="83.80" y2="459.20" stroke="#cc1aff" stroke-width="1.4" />
<line x1="88.50" y1="447.50" x2="88.50" y2="462.40" stroke="#8a8a8a" stroke-width="0.9" />
<line x1="87.20" y1="447.50" x2="89.80" y2="447.50" stroke="#8a8a8a" stroke-width="0.9" />
<line x1="87.20" y1="462.40" x2="89.80" y2="462.40" stroke="#8a8a8a" stroke-width="0.9" />
<path d="M87.30,443.18 L89.70,443.18 L88.50,441.02 Z" fill="#5a9cff"/>
<path d="M87.30,449.38 L89.70,449.38 L88.50,447.22 Z" fill="#5a9cff"/>
<path d="M86.30,451.98 L88.70,451.98 L87.50,449.82 Z" fill="#5a9cff"/>
<path d="M88.30,451.58 L90.70,451.58 L89.50,449.42 Z" fill="#5a9cff"/>
<path d="M88.30,458.58 L90.70,458.58 L89.50,456.42 Z" fill="#5a9cff"/>
<path d="M86.30,460.48 L88.70,460.48 L87.50,458.32 Z" fill="#5a9cff"/>
<path d="M86.30,465.68 L88.70,465.68 L87.50,463.52 Z" fill="#5a9cff"/>
<path d="M88.30,465.68 L90.70,465.68 L89.50,463.52 Z" fill="#5a9cff"/>
<line x1="86.00" y1="455.50" x2="91.00" y2="455.50" stroke="#5a9cff" stroke-width="1.4" />
<line x1="107.80" y1="470.00" x2="107.80" y2="477.00" stroke="#8a8a8a" stroke-width="0.9" />
<line x1="106.50" y1="470.00" x2="109.10" y2="470.00" stroke="#8a8a8a" stroke-width="0.9" />
<line x1="106.50" y1="477.00" x2="109.10" y2="477.00" stroke="#8a8a8a" stroke-width="0.9" />
<circle cx="106.80" cy="467.90" r="1.20" fill="#ff1f1f"/>
<circle cx="108.80" cy="467.90" r="1.20" fill="#ff1f1f"/>
<circle cx="107.80" cy="474.60" r="1.20" fill="#ff1f1f"/>
<circle cx="107.80" cy="479.10" r="1.20" fill="#ff1f1f"/>
<line x1="105.30" y1="472.40" x2="110.30" y2="472.40" stroke="#ff1f1f" stroke-width="1.4" />
<line x1="115.10" y1="481.50" x2="115.10" y2="500.50" stroke="#8a8a8a" stroke-width="0.9" />
<line x1="113.80" y1="481.50" x2="116.40" y2="481.50" stroke="#8a8a8a" stroke-width="0.9" />
<line x1="113.80" y1="500.50" x2="116.40" y2="500.50" stroke="#8a8a8a" stroke-width="0.9" />
<rect x="113.90" y="477.60" width="2.40" height="2.40" fill="#3ee022" stroke="none" stroke-width="0" />
<rect x="113.90" y="486.60" width="2.40" height="2.40" fill="#3ee022" stroke="none" stroke-width="0" />
<rect x="113.90" y="495.70" width="2.40" height="2.40" fill="#3ee022" stroke="none" stroke-width="0" />
<rect x="113.90" y="499.30" width="2.40" height="2.40" fill="#3ee022" stroke="none" stroke-width="0" />
<line x1="112.60" y1="491.60" x2="117.60" y2="491.60" stroke="#3ee022" stroke-width="1.4" />
<line x1="122.30" y1="474.40" x2="122.30" y2="510.30" stroke="#8a8a8a" stroke-width="0.9" />
<line x1="121.00" y1="474.40" x2="123.60" y2="474.40" stroke="#8a8a8a" stroke-width="0.9" />
<line x1="121.00" y1="510.30" x2="123.60" y2="510.30" stroke="#8a8a8a" stroke-width="0.9" />
<path d="M121.10,464.78 L123.50,464.78 L122.30,462.62 Z" fill="#2020ff"/>
<path d="M121.10,495.78 L123.50,495.78 L122.30,493.62 Z" fill="#2020ff"/>
<path d="M121.10,496.68 L123.50,496.68 L122.30,494.52 Z" fill="#2020ff"/>
<path d="M121.10,505.58 L123.50,505.58 L122.30,503.42 Z" fill="#2020ff"/>
<path d="M121.10,508.28 L123.50,508.28 L122.30,506.12 Z" fill="#2020ff"/>
<line x1="119.80" y1="494.70" x2="124.80" y2="494.70" stroke="#2020ff" stroke-width="1.4" />
<line x1="129.60" y1="486.00" x2="129.60" y2="493.80" stroke="#8a8a8a" stroke-width="0.9" />
<line x1="128.30" y1="486.00" x2="130.90" y2="486.00" stroke="#8a8a8a" stroke-width="0.9" />
<line x1="128.30" y1="493.80" x2="130.90" y2="493.80" stroke="#8a8a8a" stroke-width="0.9" />
<path d="M128.40,484.90 L129.60,483.70 L130.80,484.90 L129.60,486.10 Z" fill="#ff6222"/>
<path d="M128.40,490.80 L129.60,489.60 L130.80,490.80 L129.60,492.00 Z" fill="#ff6222"/>
<path d="M128.40,493.80 L129.60,492.60 L130.80,493.80 L129.60,495.00 Z" fill="#ff6222"/>
<line x1="127.10" y1="490.40" x2="132.10" y2="490.40" stroke="#ff6222" stroke-width="1.4" />
<line x1="136.80" y1="455.40" x2="136.80" y2="495.60" stroke="#8a8a8a" stroke-width="0.9" />
<line x1="135.50" y1="455.40" x2="138.10" y2="455.40" stroke="#8a8a8a" stroke-width="0.9" />
<line x1="135.50" y1="495.60" x2="138.10" y2="495.60" stroke="#8a8a8a" stroke-width="0.9" />
<rect x="135.60" y="464.50" width="2.40" height="2.40" fill="#cc1aff" stroke="none" stroke-width="0" />
<rect x="134.60" y="466.70" width="2.40" height="2.40" fill="#cc1aff" stroke="none" stroke-width="0" />
<rect x="136.60" y="466.70" width="2.40" height="2.40" fill="#cc1aff" stroke="none" stroke-width="0" />
<rect x="135.60" y="501.80" width="2.40" height="2.40" fill="#cc1aff" stroke="none" stroke-width="0" />
<line x1="134.30" y1="478.20" x2="139.30" y2="478.20" stroke="#cc1aff" stroke-width="1.4" />
<line x1="144.30" y1="458.00" x2="144.30" y2="469.00" stroke="#8a8a8a" stroke-width="0.9" />
<line x1="143.00" y1="458.00" x2="145.60" y2="458.00" stroke="#8a8a8a" stroke-width="0.9" />
<line x1="143.00" y1="469.00" x2="145.60" y2="469.00" stroke="#8a8a8a" stroke-width="0.9" />
<path d="M143.10,457.28 L145.50,457.28 L144.30,455.12 Z" fill="#5a9cff"/>
<path d="M142.10,464.58 L144.50,464.58 L143.30,462.42 Z" fill="#5a9cff"/>
<path d="M144.10,464.58 L146.50,464.58 L145.30,462.42 Z" fill="#5a9cff"/>
<path d="M143.10,471.78 L145.50,471.78 L144.30,469.62 Z" fill="#5a9cff"/>
<line x1="141.80" y1="463.70" x2="146.80" y2="463.70" stroke="#5a9cff" stroke-width="1.4" />
<line x1="163.40" y1="470.30" x2="163.40" y2="486.50" stroke="#8a8a8a" stroke-width="0.9" />
<line x1="162.10" y1="470.30" x2="164.70" y2="470.30" stroke="#8a8a8a" stroke-width="0.9" />
<line x1="162.10" y1="486.50" x2="164.70" y2="486.50" stroke="#8a8a8a" stroke-width="0.9" />
<circle cx="163.40" cy="466.50" r="1.20" fill="#ff1f1f"/>
<circle cx="163.40" cy="483.70" r="1.20" fill="#ff1f1f"/>
<circle cx="163.40" cy="485.20" r="1.20" fill="#ff1f1f"/>
<circle cx="163.40" cy="486.80" r="1.20" fill="#ff1f1f"/>
<line x1="160.90" y1="479.40" x2="165.90" y2="479.40" stroke="#ff1f1f" stroke-width="1.4" />
<line x1="170.80" y1="494.50" x2="170.80" y2="521.00" stroke="#8a8a8a" stroke-width="0.9" />
<line x1="169.50" y1="494.50" x2="172.10" y2="494.50" stroke="#8a8a8a" stroke-width="0.9" />
<line x1="169.50" y1="521.00" x2="172.10" y2="521.00" stroke="#8a8a8a" stroke-width="0.9" />
<rect x="169.60" y="496.50" width="2.40" height="2.40" fill="#3ee022" stroke="none" stroke-width="0" />
<rect x="169.60" y="500.90" width="2.40" height="2.40" fill="#3ee022" stroke="none" stroke-width="0" />
<rect x="169.60" y="508.80" width="2.40" height="2.40" fill="#3ee022" stroke="none" stroke-width="0" />
<rect x="169.60" y="524.00" width="2.40" height="2.40" fill="#3ee022" stroke="none" stroke-width="0" />
<line x1="168.30" y1="510.00" x2="173.30" y2="510.00" stroke="#3ee022" stroke-width="1.4" />
<line x1="177.90" y1="488.50" x2="177.90" y2="530.50" stroke="#8a8a8a" stroke-width="0.9" />
<line x1="176.60" y1="488.50" x2="179.20" y2="488.50" stroke="#8a8a8a" stroke-width="0.9" />
<line x1="176.60" y1="530.50" x2="179.20" y2="530.50" stroke="#8a8a8a" stroke-width="0.9" />
<path d="M176.70,471.88 L179.10,471.88 L177.90,469.72 Z" fill="#2020ff"/>
<path d="M175.70,522.48 L178.10,522.48 L176.90,520.32 Z" fill="#2020ff"/>
<path d="M177.70,523.08 L180.10,523.08 L178.90,520.92 Z" fill="#2020ff"/>
<path d="M176.70,531.58 L179.10,531.58 L177.90,529.42 Z" fill="#2020ff"/>
<line x1="175.40" y1="515.90" x2="180.40" y2="515.90" stroke="#2020ff" stroke-width="1.4" />
<line x1="185.10" y1="492.30" x2="185.10" y2="510.40" stroke="#8a8a8a" stroke-width="0.9" />
<line x1="183.80" y1="492.30" x2="186.40" y2="492.30" stroke="#8a8a8a" stroke-width="0.9" />
<line x1="183.80" y1="510.40" x2="186.40" y2="510.40" stroke="#8a8a8a" stroke-width="0.9" />
<path d="M183.90,487.00 L185.10,485.80 L186.30,487.00 L185.10,488.20 Z" fill="#ff6222"/>
<path d="M183.90,505.40 L185.10,504.20 L186.30,505.40 L185.10,506.60 Z" fill="#ff6222"/>
<path d="M183.90,508.50 L185.10,507.30 L186.30,508.50 L185.10,509.70 Z" fill="#ff6222"/>
<line x1="182.60" y1="501.60" x2="187.60" y2="501.60" stroke="#ff6222" stroke-width="1.4" />
<line x1="192.40" y1="457.20" x2="192.40" y2="473.20" stroke="#8a8a8a" stroke-width="0.9" />
<line x1="191.10" y1="457.20" x2="193.70" y2="457.20" stroke="#8a8a8a" stroke-width="0.9" />
<line x1="191.10" y1="473.20" x2="193.70" y2="473.20" stroke="#8a8a8a" stroke-width="0.9" />
<rect x="191.20" y="451.40" width="2.40" height="2.40" fill="#cc1aff" stroke="none" stroke-width="0" />
<rect x="190.20" y="466.20" width="2.40" height="2.40" fill="#cc1aff" stroke="none" stroke-width="0" />
<rect x="192.20" y="466.80" width="2.40" height="2.40" fill="#cc1aff" stroke="none" stroke-width="0" />
<rect x="191.20" y="471.30" width="2.40" height="2.40" fill="#cc1aff" stroke="none" stroke-width="0" />
<line x1="189.90" y1="465.30" x2="194.90" y2="465.30" stroke="#cc1aff" stroke-width="1.4" />
<line x1="199.70" y1="468.50" x2="199.70" y2="474.40" stroke="#8a8a8a" stroke-width="0.9" />
<line x1="198.40" y1="468.50" x2="201.00" y2="468.50" stroke="#8a8a8a" stroke-width="0.9" />
<line x1="198.40" y1="474.40" x2="201.00" y2="474.40" stroke="#8a8a8a" stroke-width="0.9" />
<path d="M198.50,468.98 L200.90,468.98 L199.70,466.82 Z" fill="#5a9cff"/>
<path d="M197.50,472.08 L199.90,472.08 L198.70,469.92 Z" fill="#5a9cff"/>
<path d="M199.50,472.48 L201.90,472.48 L200.70,470.32 Z" fill="#5a9cff"/>
<path d="M198.50,475.48 L200.90,475.48 L199.70,473.32 Z" fill="#5a9cff"/>
<line x1="197.20" y1="471.30" x2="202.20" y2="471.30" stroke="#5a9cff" stroke-width="1.4" />
<rect x="93.10" y="528.60" width="5.80" height="3.30" fill="#000" stroke="none" stroke-width="0" />
<rect x="148.50" y="528.60" width="5.80" height="3.30" fill="#000" stroke="none" stroke-width="0" />
<rect x="204.10" y="528.60" width="5.80" height="3.30" fill="#000" stroke="none" stroke-width="0" />
<rect x="149.00" y="526.60" width="2.60" height="2.40" fill="#000" stroke="none" stroke-width="0" />
<line x1="59.60" y1="424.50" x2="88.30" y2="424.50" stroke="#8a8a8a" stroke-width="0.9" />
<rect x="71.90" y="420.90" width="1.60" height="1.60" rx="0.48" fill="#222"/>
<rect x="74.40" y="420.90" width="1.60" height="1.60" rx="0.48" fill="#222"/>
<line x1="67.00" y1="430.30" x2="88.30" y2="430.30" stroke="#8a8a8a" stroke-width="0.9" />
<rect x="75.60" y="426.70" width="1.60" height="1.60" rx="0.48" fill="#222"/>
<rect x="78.10" y="426.70" width="1.60" height="1.60" rx="0.48" fill="#222"/>
<line x1="59.60" y1="436.40" x2="81.20" y2="436.40" stroke="#8a8a8a" stroke-width="0.9" />
<rect x="68.35" y="432.80" width="1.60" height="1.60" rx="0.48" fill="#222"/>
<rect x="70.85" y="432.80" width="1.60" height="1.60" rx="0.48" fill="#222"/>
<line x1="67.00" y1="442.50" x2="81.20" y2="442.50" stroke="#8a8a8a" stroke-width="0.9" />
<rect x="73.30" y="438.90" width="1.60" height="1.60" rx="0.48" fill="#222"/>
<line x1="115.00" y1="435.40" x2="144.20" y2="435.40" stroke="#8a8a8a" stroke-width="0.9" />
<rect x="128.80" y="431.80" width="1.60" height="1.60" rx="0.48" fill="#222"/>
<line x1="129.80" y1="444.30" x2="144.20" y2="444.30" stroke="#8a8a8a" stroke-width="0.9" />
<rect x="134.95" y="440.70" width="1.60" height="1.60" rx="0.48" fill="#222"/>
<rect x="137.45" y="440.70" width="1.60" height="1.60" rx="0.48" fill="#222"/>
<line x1="107.80" y1="452.30" x2="129.80" y2="452.30" stroke="#8a8a8a" stroke-width="0.9" />
<rect x="118.00" y="448.70" width="1.60" height="1.60" rx="0.48" fill="#222"/>
<line x1="170.90" y1="428.30" x2="199.70" y2="428.30" stroke="#8a8a8a" stroke-width="0.9" />
<rect x="184.50" y="424.70" width="1.60" height="1.60" rx="0.48" fill="#222"/>
<line x1="170.90" y1="434.60" x2="192.40" y2="434.60" stroke="#8a8a8a" stroke-width="0.9" />
<rect x="180.85" y="431.00" width="1.60" height="1.60" rx="0.48" fill="#222"/>
<line x1="185.00" y1="442.30" x2="199.70" y2="442.30" stroke="#8a8a8a" stroke-width="0.9" />
<rect x="191.55" y="438.70" width="1.60" height="1.60" rx="0.48" fill="#222"/>
<line x1="185.00" y1="448.50" x2="192.40" y2="448.50" stroke="#8a8a8a" stroke-width="0.9" />
<rect x="187.90" y="444.90" width="1.60" height="1.60" rx="0.48" fill="#222"/>
<text x="0" y="0" transform="translate(249.70,407.50) scale(1,1.07)" font-size="22.6" font-weight="bold" stroke="#000" stroke-width="0.18" text-anchor="start" fill="#000" >D</text>
<text x="0" y="0" transform="translate(371.90,416.50) scale(1,1.1)" font-size="13.6" font-weight="bold" stroke="#111" stroke-width="0.18" text-anchor="middle" fill="#111" >Nasal turbinates</text>
<line x1="290.30" y1="431.50" x2="290.30" y2="541.90" stroke="#111" stroke-width="1.8" />
<line x1="289.40" y1="541.10" x2="454.70" y2="541.10" stroke="#111" stroke-width="1.8" />
<line x1="285.80" y1="541.00" x2="290.30" y2="541.00" stroke="#111" stroke-width="1.4" />
<text x="0" y="0" transform="translate(279.90,545.44) scale(1,1.1)" font-size="9.0" font-weight="bold" stroke="#111" stroke-width="0.18" text-anchor="end" fill="#111" >10</text>
<text x="0" y="0" transform="translate(280.90,542.88) scale(1,1.1)" font-size="6.0" font-weight="bold" stroke="#111" stroke-width="0.18" text-anchor="start" fill="#111" >0</text>
<line x1="285.80" y1="527.40" x2="290.30" y2="527.40" stroke="#111" stroke-width="1.4" />
<text x="0" y="0" transform="translate(279.90,531.84) scale(1,1.1)" font-size="9.0" font-weight="bold" stroke="#111" stroke-width="0.18" text-anchor="end" fill="#111" >10</text>
<text x="0" y="0" transform="translate(280.90,529.28) scale(1,1.1)" font-size="6.0" font-weight="bold" stroke="#111" stroke-width="0.18" text-anchor="start" fill="#111" >1</text>
<line x1="285.80" y1="513.80" x2="290.30" y2="513.80" stroke="#111" stroke-width="1.4" />
<text x="0" y="0" transform="translate(279.90,518.24) scale(1,1.1)" font-size="9.0" font-weight="bold" stroke="#111" stroke-width="0.18" text-anchor="end" fill="#111" >10</text>
<text x="0" y="0" transform="translate(280.90,515.68) scale(1,1.1)" font-size="6.0" font-weight="bold" stroke="#111" stroke-width="0.18" text-anchor="start" fill="#111" >2</text>
<line x1="285.80" y1="500.20" x2="290.30" y2="500.20" stroke="#111" stroke-width="1.4" />
<text x="0" y="0" transform="translate(279.90,504.64) scale(1,1.1)" font-size="9.0" font-weight="bold" stroke="#111" stroke-width="0.18" text-anchor="end" fill="#111" >10</text>
<text x="0" y="0" transform="translate(280.90,502.08) scale(1,1.1)" font-size="6.0" font-weight="bold" stroke="#111" stroke-width="0.18" text-anchor="start" fill="#111" >3</text>
<line x1="285.80" y1="486.60" x2="290.30" y2="486.60" stroke="#111" stroke-width="1.4" />
<text x="0" y="0" transform="translate(279.90,491.04) scale(1,1.1)" font-size="9.0" font-weight="bold" stroke="#111" stroke-width="0.18" text-anchor="end" fill="#111" >10</text>
<text x="0" y="0" transform="translate(280.90,488.48) scale(1,1.1)" font-size="6.0" font-weight="bold" stroke="#111" stroke-width="0.18" text-anchor="start" fill="#111" >4</text>
<line x1="285.80" y1="473.00" x2="290.30" y2="473.00" stroke="#111" stroke-width="1.4" />
<text x="0" y="0" transform="translate(279.90,477.44) scale(1,1.1)" font-size="9.0" font-weight="bold" stroke="#111" stroke-width="0.18" text-anchor="end" fill="#111" >10</text>
<text x="0" y="0" transform="translate(280.90,474.88) scale(1,1.1)" font-size="6.0" font-weight="bold" stroke="#111" stroke-width="0.18" text-anchor="start" fill="#111" >5</text>
<line x1="285.80" y1="459.40" x2="290.30" y2="459.40" stroke="#111" stroke-width="1.4" />
<text x="0" y="0" transform="translate(279.90,463.84) scale(1,1.1)" font-size="9.0" font-weight="bold" stroke="#111" stroke-width="0.18" text-anchor="end" fill="#111" >10</text>
<text x="0" y="0" transform="translate(280.90,461.28) scale(1,1.1)" font-size="6.0" font-weight="bold" stroke="#111" stroke-width="0.18" text-anchor="start" fill="#111" >6</text>
<line x1="285.80" y1="445.80" x2="290.30" y2="445.80" stroke="#111" stroke-width="1.4" />
<text x="0" y="0" transform="translate(279.90,450.24) scale(1,1.1)" font-size="9.0" font-weight="bold" stroke="#111" stroke-width="0.18" text-anchor="end" fill="#111" >10</text>
<text x="0" y="0" transform="translate(280.90,447.68) scale(1,1.1)" font-size="6.0" font-weight="bold" stroke="#111" stroke-width="0.18" text-anchor="start" fill="#111" >7</text>
<line x1="285.80" y1="432.20" x2="290.30" y2="432.20" stroke="#111" stroke-width="1.4" />
<text x="0" y="0" transform="translate(279.90,436.64) scale(1,1.1)" font-size="9.0" font-weight="bold" stroke="#111" stroke-width="0.18" text-anchor="end" fill="#111" >10</text>
<text x="0" y="0" transform="translate(280.90,434.08) scale(1,1.1)" font-size="6.0" font-weight="bold" stroke="#111" stroke-width="0.18" text-anchor="start" fill="#111" >8</text>
<line x1="330.20" y1="541.10" x2="330.20" y2="545.30" stroke="#111" stroke-width="1.4" />
<text x="330.20" y="555.50" font-size="9.0" font-weight="bold" stroke="#111" stroke-width="0.18" text-anchor="middle" fill="#111" >2</text>
<line x1="414.20" y1="541.10" x2="414.20" y2="545.30" stroke="#111" stroke-width="1.4" />
<text x="414.20" y="555.50" font-size="9.0" font-weight="bold" stroke="#111" stroke-width="0.18" text-anchor="middle" fill="#111" >5</text>
<text x="372.00" y="567.80" font-size="9.15" font-weight="bold" stroke="#111" stroke-width="0.18" text-anchor="middle" fill="#111" >Days post-challenge</text>
<text x="0.00" y="0.00" font-size="9.0" font-weight="bold" stroke="#111" stroke-width="0.18" text-anchor="middle" fill="#111" transform="translate(262.2,486.4) rotate(-90)">PFUs/mL</text>
<line x1="290.30" y1="531.70" x2="454.70" y2="531.70" stroke="#000" stroke-width="1.4" stroke-dasharray="1.3 1.8"/>
<line x1="297.30" y1="446.00" x2="297.30" y2="452.20" stroke="#333" stroke-width="0.9" />
<line x1="295.50" y1="446.00" x2="299.10" y2="446.00" stroke="#333" stroke-width="0.9" />
<line x1="295.50" y1="452.20" x2="299.10" y2="452.20" stroke="#333" stroke-width="0.9" />
<circle cx="297.30" cy="446.00" r="1.45" fill="#ff1f1f"/>
<circle cx="297.30" cy="449.70" r="1.45" fill="#ff1f1f"/>
<circle cx="297.30" cy="452.00" r="1.45" fill="#ff1f1f"/>
<line x1="293.80" y1="449.30" x2="300.80" y2="449.30" stroke="#ff1f1f" stroke-width="1.5" />
<line x1="308.30" y1="509.40" x2="308.30" y2="534.40" stroke="#333" stroke-width="0.9" />
<line x1="306.50" y1="509.40" x2="310.10" y2="509.40" stroke="#333" stroke-width="0.9" />
<line x1="306.50" y1="534.40" x2="310.10" y2="534.40" stroke="#333" stroke-width="0.9" />
<rect x="306.85" y="492.35" width="2.90" height="2.90" fill="#3ee022" stroke="none" stroke-width="0" />
<rect x="306.85" y="525.55" width="2.90" height="2.90" fill="#3ee022" stroke="none" stroke-width="0" />
<rect x="305.05" y="530.25" width="2.90" height="2.90" fill="#3ee022" stroke="none" stroke-width="0" />
<rect x="308.65" y="530.25" width="2.90" height="2.90" fill="#3ee022" stroke="none" stroke-width="0" />
<line x1="304.80" y1="527.00" x2="311.80" y2="527.00" stroke="#3ee022" stroke-width="1.5" />
<line x1="319.50" y1="491.30" x2="319.50" y2="533.20" stroke="#333" stroke-width="0.9" />
<line x1="317.70" y1="491.30" x2="321.30" y2="491.30" stroke="#333" stroke-width="0.9" />
<line x1="317.70" y1="533.20" x2="321.30" y2="533.20" stroke="#333" stroke-width="0.9" />
<path d="M318.05,479.20 L320.95,479.20 L319.50,476.59 Z" fill="#2020ff"/>
<path d="M318.05,515.70 L320.95,515.70 L319.50,513.10 Z" fill="#2020ff"/>
<path d="M316.25,533.00 L319.15,533.00 L317.70,530.40 Z" fill="#2020ff"/>
<path d="M319.85,533.00 L322.75,533.00 L321.30,530.40 Z" fill="#2020ff"/>
<line x1="316.00" y1="521.50" x2="323.00" y2="521.50" stroke="#2020ff" stroke-width="1.5" />
<line x1="330.30" y1="500.20" x2="330.30" y2="533.20" stroke="#333" stroke-width="0.9" />
<line x1="328.50" y1="500.20" x2="332.10" y2="500.20" stroke="#333" stroke-width="0.9" />
<line x1="328.50" y1="533.20" x2="332.10" y2="533.20" stroke="#333" stroke-width="0.9" />
<path d="M328.85,493.80 L330.30,492.35 L331.75,493.80 L330.30,495.25 Z" fill="#ff6222"/>
<path d="M328.85,513.90 L330.30,512.45 L331.75,513.90 L330.30,515.35 Z" fill="#ff6222"/>
<path d="M327.05,531.70 L328.50,530.25 L329.95,531.70 L328.50,533.15 Z" fill="#ff6222"/>
<path d="M330.65,531.70 L332.10,530.25 L333.55,531.70 L332.10,533.15 Z" fill="#ff6222"/>
<line x1="326.80" y1="522.50" x2="333.80" y2="522.50" stroke="#ff6222" stroke-width="1.5" />
<line x1="341.20" y1="440.20" x2="341.20" y2="443.20" stroke="#333" stroke-width="0.9" />
<line x1="339.40" y1="440.20" x2="343.00" y2="440.20" stroke="#333" stroke-width="0.9" />
<line x1="339.40" y1="443.20" x2="343.00" y2="443.20" stroke="#333" stroke-width="0.9" />
<rect x="339.75" y="437.55" width="2.90" height="2.90" fill="#cc1aff" stroke="none" stroke-width="0" />
<rect x="337.95" y="439.55" width="2.90" height="2.90" fill="#cc1aff" stroke="none" stroke-width="0" />
<rect x="341.25" y="440.35" width="2.90" height="2.90" fill="#cc1aff" stroke="none" stroke-width="0" />
<rect x="338.75" y="441.55" width="2.90" height="2.90" fill="#cc1aff" stroke="none" stroke-width="0" />
<line x1="338.20" y1="442.00" x2="344.20" y2="442.00" stroke="#cc1aff" stroke-width="1.5" />
<line x1="352.20" y1="444.50" x2="352.20" y2="449.70" stroke="#333" stroke-width="0.9" />
<line x1="350.40" y1="444.50" x2="354.00" y2="444.50" stroke="#333" stroke-width="0.9" />
<line x1="350.40" y1="449.70" x2="354.00" y2="449.70" stroke="#333" stroke-width="0.9" />
<path d="M350.75,445.81 L353.65,445.81 L352.20,443.19 Z" fill="#5a9cff"/>
<path d="M348.95,448.00 L351.85,448.00 L350.40,445.39 Z" fill="#5a9cff"/>
<path d="M352.55,448.00 L355.45,448.00 L354.00,445.39 Z" fill="#5a9cff"/>
<path d="M350.75,451.00 L353.65,451.00 L352.20,448.39 Z" fill="#5a9cff"/>
<line x1="349.20" y1="446.70" x2="355.20" y2="446.70" stroke="#5a9cff" stroke-width="1.5" />
<rect x="378.00" y="530.40" width="7.20" height="2.60" fill="#ff1f1f" stroke="none" stroke-width="0" />
<rect x="389.00" y="530.40" width="7.20" height="2.60" fill="#3ee022" stroke="none" stroke-width="0" />
<rect x="399.50" y="530.40" width="7.20" height="2.60" fill="#2020ff" stroke="none" stroke-width="0" />
<rect x="410.70" y="530.40" width="7.20" height="2.60" fill="#ff6222" stroke="none" stroke-width="0" />
<rect x="421.25" y="475.85" width="2.90" height="2.90" fill="#cc1aff" stroke="none" stroke-width="0" />
<rect x="422.95" y="475.35" width="2.90" height="2.90" fill="#cc1aff" stroke="none" stroke-width="0" />
<rect x="424.55" y="475.65" width="2.90" height="2.90" fill="#cc1aff" stroke="none" stroke-width="0" />
<rect x="426.25" y="475.95" width="2.90" height="2.90" fill="#cc1aff" stroke="none" stroke-width="0" />
<line x1="423.20" y1="477.10" x2="427.20" y2="477.10" stroke="#cc1aff" stroke-width="1.5" />
<line x1="436.10" y1="468.60" x2="436.10" y2="482.30" stroke="#333" stroke-width="0.9" />
<line x1="434.30" y1="468.60" x2="437.90" y2="468.60" stroke="#333" stroke-width="0.9" />
<line x1="434.30" y1="482.30" x2="437.90" y2="482.30" stroke="#333" stroke-width="0.9" />
<path d="M434.65,469.50 L437.55,469.50 L436.10,466.89 Z" fill="#5a9cff"/>
<path d="M432.85,476.81 L435.75,476.81 L434.30,474.19 Z" fill="#5a9cff"/>
<path d="M436.45,476.81 L439.35,476.81 L437.90,474.19 Z" fill="#5a9cff"/>
<path d="M434.65,484.00 L437.55,484.00 L436.10,481.39 Z" fill="#5a9cff"/>
<line x1="432.60" y1="475.50" x2="439.60" y2="475.50" stroke="#5a9cff" stroke-width="1.5" />
<rect x="359.40" y="530.30" width="7.20" height="2.80" fill="#000" stroke="none" stroke-width="0" />
<rect x="443.90" y="530.30" width="7.20" height="2.80" fill="#000" stroke="none" stroke-width="0" />
<line x1="297.40" y1="442.30" x2="319.60" y2="442.30" stroke="#5a5a5a" stroke-width="1.0" />
<line x1="297.40" y1="442.30" x2="297.40" y2="444.20" stroke="#5a5a5a" stroke-width="1.0" />
<line x1="319.60" y1="442.30" x2="319.60" y2="470.20" stroke="#5a5a5a" stroke-width="1.0" />
<line x1="308.30" y1="470.20" x2="330.30" y2="470.20" stroke="#5a5a5a" stroke-width="1.0" />
<line x1="308.30" y1="470.20" x2="308.30" y2="472.20" stroke="#5a5a5a" stroke-width="1.0" />
<line x1="330.30" y1="470.20" x2="330.30" y2="472.20" stroke="#5a5a5a" stroke-width="1.0" />
<rect x="303.07" y="436.60" width="1.80" height="1.80" rx="0.54" fill="#222"/>
<rect x="305.89" y="436.60" width="1.80" height="1.80" rx="0.54" fill="#222"/>
<rect x="308.71" y="436.60" width="1.80" height="1.80" rx="0.54" fill="#222"/>
<rect x="311.53" y="436.60" width="1.80" height="1.80" rx="0.54" fill="#222"/>
<line x1="308.40" y1="433.40" x2="330.40" y2="433.40" stroke="#5a5a5a" stroke-width="1.0" />
<line x1="308.40" y1="433.40" x2="308.40" y2="435.40" stroke="#5a5a5a" stroke-width="1.0" />
<line x1="330.40" y1="433.40" x2="330.40" y2="435.40" stroke="#5a5a5a" stroke-width="1.0" />
<line x1="319.60" y1="432.30" x2="319.60" y2="433.40" stroke="#5a5a5a" stroke-width="1.0" />
<line x1="319.60" y1="432.30" x2="347.20" y2="432.30" stroke="#5a5a5a" stroke-width="1.0" />
<line x1="347.20" y1="432.30" x2="347.20" y2="435.30" stroke="#5a5a5a" stroke-width="1.0" />
<line x1="341.10" y1="435.30" x2="352.50" y2="435.30" stroke="#5a5a5a" stroke-width="1.0" />
<line x1="341.10" y1="435.30" x2="341.10" y2="437.40" stroke="#5a5a5a" stroke-width="1.0" />
<line x1="352.50" y1="435.30" x2="352.50" y2="437.40" stroke="#5a5a5a" stroke-width="1.0" />
<rect x="328.07" y="426.30" width="1.80" height="1.80" rx="0.54" fill="#222"/>
<rect x="330.89" y="426.30" width="1.80" height="1.80" rx="0.54" fill="#222"/>
<rect x="333.71" y="426.30" width="1.80" height="1.80" rx="0.54" fill="#222"/>
<rect x="336.53" y="426.30" width="1.80" height="1.80" rx="0.54" fill="#222"/>
<line x1="381.60" y1="523.40" x2="414.30" y2="523.40" stroke="#5a5a5a" stroke-width="1.0" />
<line x1="381.60" y1="523.40" x2="381.60" y2="526.40" stroke="#5a5a5a" stroke-width="1.0" />
<line x1="392.60" y1="523.40" x2="392.60" y2="526.40" stroke="#5a5a5a" stroke-width="1.0" />
<line x1="403.10" y1="523.40" x2="403.10" y2="526.40" stroke="#5a5a5a" stroke-width="1.0" />
<line x1="414.30" y1="523.40" x2="414.30" y2="526.40" stroke="#5a5a5a" stroke-width="1.0" />
<line x1="397.30" y1="523.40" x2="397.30" y2="457.10" stroke="#5a5a5a" stroke-width="1.0" />
<line x1="397.30" y1="457.10" x2="430.70" y2="457.10" stroke="#5a5a5a" stroke-width="1.0" />
<line x1="430.70" y1="457.10" x2="430.70" y2="460.80" stroke="#5a5a5a" stroke-width="1.0" />
<line x1="425.20" y1="460.80" x2="436.40" y2="460.80" stroke="#5a5a5a" stroke-width="1.0" />
<line x1="425.20" y1="460.80" x2="425.20" y2="463.40" stroke="#5a5a5a" stroke-width="1.0" />
<line x1="436.40" y1="460.80" x2="436.40" y2="463.40" stroke="#5a5a5a" stroke-width="1.0" />
<rect x="409.17" y="451.80" width="1.80" height="1.80" rx="0.54" fill="#222"/>
<rect x="411.99" y="451.80" width="1.80" height="1.80" rx="0.54" fill="#222"/>
<rect x="414.81" y="451.80" width="1.80" height="1.80" rx="0.54" fill="#222"/>
<rect x="417.63" y="451.80" width="1.80" height="1.80" rx="0.54" fill="#222"/>
<circle cx="467.40" cy="439.50" r="1.30" fill="#ff1f1f"/>
<text x="480.10" y="442.80" font-size="9.2" stroke="#222" stroke-width="0.18" text-anchor="start" fill="#222" >MVA-S(3P) / MVA-S(3P)</text>
<rect x="466.10" y="450.23" width="2.60" height="2.60" fill="#3ee022" stroke="none" stroke-width="0" />
<text x="480.10" y="454.83" font-size="9.2" stroke="#222" stroke-width="0.18" text-anchor="start" fill="#222" >NDV-HXP-S / NDV-HXP-S</text>
<path d="M466.10,464.73 L468.70,464.73 L467.40,462.39 Z" fill="#2020ff"/>
<text x="480.10" y="466.86" font-size="9.2" stroke="#222" stroke-width="0.18" text-anchor="start" fill="#222" >MVA-S(3P) / NDV-HXP-S</text>
<path d="M466.10,475.59 L467.40,474.29 L468.70,475.59 L467.40,476.89 Z" fill="#ff6222"/>
<text x="480.10" y="478.89" font-size="9.2" stroke="#222" stroke-width="0.18" text-anchor="start" fill="#222" >NDV-HXP-S / MVA-S(3P)</text>
<rect x="466.10" y="486.32" width="2.60" height="2.60" fill="#cc1aff" stroke="none" stroke-width="0" />
<text x="480.10" y="490.92" font-size="9.2" stroke="#222" stroke-width="0.18" text-anchor="start" fill="#222" >MVA-WT / MVA-WT</text>
<path d="M466.10,500.82 L468.70,500.82 L467.40,498.48 Z" fill="#5a9cff"/>
<text x="480.10" y="502.95" font-size="9.2" stroke="#222" stroke-width="0.18" text-anchor="start" fill="#222" >NDV-WT / NDV-WT</text>
<circle cx="467.40" cy="511.68" r="1.30" fill="#000"/>
<text x="480.10" y="514.98" font-size="9.2" stroke="#222" stroke-width="0.18" text-anchor="start" fill="#222" >Healthy control</text>
<text x="0" y="0" transform="translate(4.50,601.60) scale(1,1.07)" font-size="22.6" font-weight="bold" stroke="#000" stroke-width="0.18" text-anchor="start" fill="#000" >E</text>
<text x="0.00" y="0.00" font-size="10.0" font-weight="bold" stroke="#111" stroke-width="0.18" text-anchor="middle" fill="#111" transform="translate(18.6,672.0) rotate(-90)">PFUs/mL</text>
<text x="0.00" y="0.00" font-size="10.0" font-weight="bold" stroke="#111" stroke-width="0.18" text-anchor="middle" fill="#111" transform="translate(257.0,672.5) rotate(-90)">PFUs/mL</text>
<text x="0" y="0" transform="translate(129.60,608.10) scale(1,1.07)" font-size="11.8" font-weight="bold" stroke="#111" stroke-width="0.18" text-anchor="middle" fill="#111" >Upper right lung lobe</text>
<line x1="47.80" y1="611.20" x2="47.80" y2="732.90" stroke="#2a2a2a" stroke-width="1.8" />
<line x1="46.90" y1="732.00" x2="210.80" y2="732.00" stroke="#2a2a2a" stroke-width="1.8" />
<line x1="42.80" y1="732.00" x2="47.80" y2="732.00" stroke="#2a2a2a" stroke-width="1.4" />
<text x="36.90" y="736.32" font-size="10.4" font-weight="bold" stroke="#111" stroke-width="0.18" text-anchor="end" fill="#111" >10</text>
<text x="38.30" y="733.46" font-size="6.4" font-weight="bold" stroke="#111" stroke-width="0.18" text-anchor="start" fill="#111" >0</text>
<line x1="42.80" y1="717.00" x2="47.80" y2="717.00" stroke="#2a2a2a" stroke-width="1.4" />
<text x="36.90" y="721.32" font-size="10.4" font-weight="bold" stroke="#111" stroke-width="0.18" text-anchor="end" fill="#111" >10</text>
<text x="38.30" y="718.46" font-size="6.4" font-weight="bold" stroke="#111" stroke-width="0.18" text-anchor="start" fill="#111" >1</text>
<line x1="42.80" y1="702.00" x2="47.80" y2="702.00" stroke="#2a2a2a" stroke-width="1.4" />
<text x="36.90" y="706.32" font-size="10.4" font-weight="bold" stroke="#111" stroke-width="0.18" text-anchor="end" fill="#111" >10</text>
<text x="38.30" y="703.46" font-size="6.4" font-weight="bold" stroke="#111" stroke-width="0.18" text-anchor="start" fill="#111" >2</text>
<line x1="42.80" y1="687.00" x2="47.80" y2="687.00" stroke="#2a2a2a" stroke-width="1.4" />
<text x="36.90" y="691.32" font-size="10.4" font-weight="bold" stroke="#111" stroke-width="0.18" text-anchor="end" fill="#111" >10</text>
<text x="38.30" y="688.46" font-size="6.4" font-weight="bold" stroke="#111" stroke-width="0.18" text-anchor="start" fill="#111" >3</text>
<line x1="42.80" y1="672.00" x2="47.80" y2="672.00" stroke="#2a2a2a" stroke-width="1.4" />
<text x="36.90" y="676.32" font-size="10.4" font-weight="bold" stroke="#111" stroke-width="0.18" text-anchor="end" fill="#111" >10</text>
<text x="38.30" y="673.46" font-size="6.4" font-weight="bold" stroke="#111" stroke-width="0.18" text-anchor="start" fill="#111" >4</text>
<line x1="42.80" y1="657.00" x2="47.80" y2="657.00" stroke="#2a2a2a" stroke-width="1.4" />
<text x="36.90" y="661.32" font-size="10.4" font-weight="bold" stroke="#111" stroke-width="0.18" text-anchor="end" fill="#111" >10</text>
<text x="38.30" y="658.46" font-size="6.4" font-weight="bold" stroke="#111" stroke-width="0.18" text-anchor="start" fill="#111" >5</text>
<line x1="42.80" y1="642.00" x2="47.80" y2="642.00" stroke="#2a2a2a" stroke-width="1.4" />
<text x="36.90" y="646.32" font-size="10.4" font-weight="bold" stroke="#111" stroke-width="0.18" text-anchor="end" fill="#111" >10</text>
<text x="38.30" y="643.46" font-size="6.4" font-weight="bold" stroke="#111" stroke-width="0.18" text-anchor="start" fill="#111" >6</text>
<line x1="42.80" y1="627.00" x2="47.80" y2="627.00" stroke="#2a2a2a" stroke-width="1.4" />
<text x="36.90" y="631.32" font-size="10.4" font-weight="bold" stroke="#111" stroke-width="0.18" text-anchor="end" fill="#111" >10</text>
<text x="38.30" y="628.46" font-size="6.4" font-weight="bold" stroke="#111" stroke-width="0.18" text-anchor="start" fill="#111" >7</text>
<line x1="42.80" y1="612.00" x2="47.80" y2="612.00" stroke="#2a2a2a" stroke-width="1.4" />
<text x="36.90" y="616.32" font-size="10.4" font-weight="bold" stroke="#111" stroke-width="0.18" text-anchor="end" fill="#111" >10</text>
<text x="38.30" y="613.46" font-size="6.4" font-weight="bold" stroke="#111" stroke-width="0.18" text-anchor="start" fill="#111" >8</text>
<line x1="87.50" y1="732.00" x2="87.50" y2="736.80" stroke="#2a2a2a" stroke-width="1.4" />
<text x="87.50" y="747.70" font-size="10.0" font-weight="bold" stroke="#111" stroke-width="0.18" text-anchor="middle" fill="#111" >2</text>
<line x1="170.60" y1="732.00" x2="170.60" y2="736.80" stroke="#2a2a2a" stroke-width="1.4" />
<text x="170.60" y="747.70" font-size="10.0" font-weight="bold" stroke="#111" stroke-width="0.18" text-anchor="middle" fill="#111" >5</text>
<text x="128.55" y="761.70" font-size="10.1" font-weight="bold" stroke="#111" stroke-width="0.18" text-anchor="middle" fill="#111" >Days post-challenge</text>
<line x1="47.80" y1="721.50" x2="210.80" y2="721.50" stroke="#000" stroke-width="1.4" stroke-dasharray="1.3 2.3"/>
<ellipse cx="54.65" cy="721.50" rx="3.5" ry="2.1" fill="#ff1f1f"/>
<line x1="54.05" y1="721.50" x2="55.25" y2="721.50" stroke="#222" stroke-width="1.0" />
<rect x="62.00" y="719.40" width="7.2" height="4.2" rx="1.2" fill="#3ee022"/>
<line x1="65.00" y1="721.50" x2="66.20" y2="721.50" stroke="#222" stroke-width="1.0" />
<ellipse cx="76.55" cy="721.50" rx="3.4" ry="1.9" fill="#2020ff"/>
<line x1="75.95" y1="721.50" x2="77.15" y2="721.50" stroke="#222" stroke-width="1.0" />
<ellipse cx="87.50" cy="721.50" rx="3.1" ry="1.9" fill="#ff6222"/>
<line x1="86.90" y1="721.50" x2="88.10" y2="721.50" stroke="#222" stroke-width="1.0" />
<rect x="117.05" y="719.10" width="6.6" height="4.8" rx="2.2" fill="#000"/>
<ellipse cx="137.75" cy="721.50" rx="3.5" ry="2.1" fill="#ff1f1f"/>
<line x1="137.15" y1="721.50" x2="138.35" y2="721.50" stroke="#222" stroke-width="1.0" />
<rect x="145.10" y="719.40" width="7.2" height="4.2" rx="1.2" fill="#3ee022"/>
<line x1="148.10" y1="721.50" x2="149.30" y2="721.50" stroke="#222" stroke-width="1.0" />
<ellipse cx="159.65" cy="721.50" rx="3.4" ry="1.9" fill="#2020ff"/>
<line x1="159.05" y1="721.50" x2="160.25" y2="721.50" stroke="#222" stroke-width="1.0" />
<ellipse cx="170.60" cy="721.50" rx="3.1" ry="1.9" fill="#ff6222"/>
<line x1="170.00" y1="721.50" x2="171.20" y2="721.50" stroke="#222" stroke-width="1.0" />
<rect x="200.15" y="719.10" width="6.6" height="4.8" rx="2.2" fill="#000"/>
<line x1="54.65" y1="712.50" x2="87.50" y2="712.50" stroke="#5a5a5a" stroke-width="1.0" />
<line x1="54.65" y1="712.50" x2="54.65" y2="715.70" stroke="#5a5a5a" stroke-width="1.0" />
<line x1="65.60" y1="712.50" x2="65.60" y2="715.70" stroke="#5a5a5a" stroke-width="1.0" />
<line x1="76.55" y1="712.50" x2="76.55" y2="715.70" stroke="#5a5a5a" stroke-width="1.0" />
<line x1="87.50" y1="712.50" x2="87.50" y2="715.70" stroke="#5a5a5a" stroke-width="1.0" />
<line x1="71.37" y1="712.50" x2="71.37" y2="630.30" stroke="#5a5a5a" stroke-width="1.0" />
<line x1="71.37" y1="630.30" x2="103.93" y2="630.30" stroke="#5a5a5a" stroke-width="1.0" />
<line x1="103.93" y1="630.30" x2="103.93" y2="633.50" stroke="#5a5a5a" stroke-width="1.0" />
<line x1="98.45" y1="633.50" x2="109.40" y2="633.50" stroke="#5a5a5a" stroke-width="1.0" />
<line x1="98.45" y1="633.50" x2="98.45" y2="636.50" stroke="#5a5a5a" stroke-width="1.0" />
<line x1="109.40" y1="633.50" x2="109.40" y2="636.50" stroke="#5a5a5a" stroke-width="1.0" />
<rect x="81.69" y="623.70" width="2.40" height="2.40" rx="0.72" fill="#222"/>
<rect x="84.76" y="623.70" width="2.40" height="2.40" rx="0.72" fill="#222"/>
<rect x="87.83" y="623.70" width="2.40" height="2.40" rx="0.72" fill="#222"/>
<rect x="90.90" y="623.70" width="2.40" height="2.40" rx="0.72" fill="#222"/>
<line x1="137.75" y1="712.50" x2="170.60" y2="712.50" stroke="#5a5a5a" stroke-width="1.0" />
<line x1="137.75" y1="712.50" x2="137.75" y2="715.70" stroke="#5a5a5a" stroke-width="1.0" />
<line x1="148.70" y1="712.50" x2="148.70" y2="715.70" stroke="#5a5a5a" stroke-width="1.0" />
<line x1="159.65" y1="712.50" x2="159.65" y2="715.70" stroke="#5a5a5a" stroke-width="1.0" />
<line x1="170.60" y1="712.50" x2="170.60" y2="715.70" stroke="#5a5a5a" stroke-width="1.0" />
<line x1="154.48" y1="712.50" x2="154.48" y2="661.50" stroke="#5a5a5a" stroke-width="1.0" />
<line x1="154.48" y1="661.50" x2="187.02" y2="661.50" stroke="#5a5a5a" stroke-width="1.0" />
<line x1="187.02" y1="661.50" x2="187.02" y2="664.90" stroke="#5a5a5a" stroke-width="1.0" />
<line x1="181.55" y1="664.90" x2="192.50" y2="664.90" stroke="#5a5a5a" stroke-width="1.0" />
<line x1="181.55" y1="664.90" x2="181.55" y2="667.90" stroke="#5a5a5a" stroke-width="1.0" />
<line x1="192.50" y1="664.90" x2="192.50" y2="667.90" stroke="#5a5a5a" stroke-width="1.0" />
<rect x="164.80" y="653.90" width="2.40" height="2.40" rx="0.72" fill="#222"/>
<rect x="167.87" y="653.90" width="2.40" height="2.40" rx="0.72" fill="#222"/>
<rect x="170.94" y="653.90" width="2.40" height="2.40" rx="0.72" fill="#222"/>
<rect x="174.01" y="653.90" width="2.40" height="2.40" rx="0.72" fill="#222"/>
<line x1="98.45" y1="645.20" x2="98.45" y2="657.00" stroke="#333" stroke-width="0.9" />
<line x1="96.20" y1="645.20" x2="100.70" y2="645.20" stroke="#333" stroke-width="0.9" />
<line x1="96.20" y1="657.00" x2="100.70" y2="657.00" stroke="#333" stroke-width="0.9" />
<rect x="95.95" y="638.80" width="5.00" height="5.00" fill="#cc1aff" stroke="none" stroke-width="0" />
<rect x="94.35" y="649.30" width="5.00" height="5.00" fill="#cc1aff" stroke="none" stroke-width="0" />
<rect x="94.35" y="654.00" width="5.00" height="5.00" fill="#cc1aff" stroke="none" stroke-width="0" />
<rect x="97.55" y="654.30" width="5.00" height="5.00" fill="#cc1aff" stroke="none" stroke-width="0" />
<rect x="97.55" y="649.00" width="5.00" height="5.00" fill="#cc1aff" stroke="none" stroke-width="0" />
<line x1="94.45" y1="652.30" x2="102.45" y2="652.30" stroke="#cc1aff" stroke-width="1.5" />
<line x1="109.40" y1="645.20" x2="109.40" y2="657.00" stroke="#333" stroke-width="0.9" />
<line x1="107.15" y1="645.20" x2="111.65" y2="645.20" stroke="#333" stroke-width="0.9" />
<line x1="107.15" y1="657.00" x2="111.65" y2="657.00" stroke="#333" stroke-width="0.9" />
<path d="M106.90,643.55 L111.90,643.55 L109.40,639.05 Z" fill="#5a9cff"/>
<path d="M105.30,652.25 L110.30,652.25 L107.80,647.75 Z" fill="#5a9cff"/>
<path d="M106.90,653.55 L111.90,653.55 L109.40,649.05 Z" fill="#5a9cff"/>
<path d="M106.90,659.75 L111.90,659.75 L109.40,655.25 Z" fill="#5a9cff"/>
<line x1="105.40" y1="650.50" x2="113.40" y2="650.50" stroke="#5a9cff" stroke-width="1.5" />
<line x1="181.55" y1="676.70" x2="181.55" y2="695.10" stroke="#333" stroke-width="0.9" />
<line x1="179.30" y1="676.70" x2="183.80" y2="676.70" stroke="#333" stroke-width="0.9" />
<line x1="179.30" y1="695.10" x2="183.80" y2="695.10" stroke="#333" stroke-width="0.9" />
<rect x="179.05" y="670.30" width="5.00" height="5.00" fill="#cc1aff" stroke="none" stroke-width="0" />
<rect x="180.25" y="684.00" width="5.00" height="5.00" fill="#cc1aff" stroke="none" stroke-width="0" />
<rect x="177.85" y="690.00" width="5.00" height="5.00" fill="#cc1aff" stroke="none" stroke-width="0" />
<rect x="179.05" y="697.10" width="5.00" height="5.00" fill="#cc1aff" stroke="none" stroke-width="0" />
<line x1="177.55" y1="689.40" x2="185.55" y2="689.40" stroke="#cc1aff" stroke-width="1.5" />
<line x1="192.50" y1="675.00" x2="192.50" y2="687.30" stroke="#333" stroke-width="0.9" />
<line x1="190.25" y1="675.00" x2="194.75" y2="675.00" stroke="#333" stroke-width="0.9" />
<line x1="190.25" y1="687.30" x2="194.75" y2="687.30" stroke="#333" stroke-width="0.9" />
<path d="M190.00,676.35 L195.00,676.35 L192.50,671.85 Z" fill="#5a9cff"/>
<path d="M190.00,683.45 L195.00,683.45 L192.50,678.95 Z" fill="#5a9cff"/>
<path d="M188.40,689.55 L193.40,689.55 L190.90,685.05 Z" fill="#5a9cff"/>
<path d="M191.60,689.55 L196.60,689.55 L194.10,685.05 Z" fill="#5a9cff"/>
<line x1="188.50" y1="681.20" x2="196.50" y2="681.20" stroke="#5a9cff" stroke-width="1.5" />
<text x="0" y="0" transform="translate(372.30,607.60) scale(1,1.07)" font-size="11.8" font-weight="bold" stroke="#111" stroke-width="0.18" text-anchor="middle" fill="#111" >Lower right lung lobe</text>
<line x1="289.80" y1="611.40" x2="289.80" y2="732.90" stroke="#2a2a2a" stroke-width="1.8" />
<line x1="288.90" y1="732.00" x2="453.00" y2="732.00" stroke="#2a2a2a" stroke-width="1.8" />
<line x1="284.80" y1="732.00" x2="289.80" y2="732.00" stroke="#2a2a2a" stroke-width="1.4" />
<text x="278.90" y="736.32" font-size="10.4" font-weight="bold" stroke="#111" stroke-width="0.18" text-anchor="end" fill="#111" >10</text>
<text x="280.30" y="733.46" font-size="6.4" font-weight="bold" stroke="#111" stroke-width="0.18" text-anchor="start" fill="#111" >0</text>
<line x1="284.80" y1="717.02" x2="289.80" y2="717.02" stroke="#2a2a2a" stroke-width="1.4" />
<text x="278.90" y="721.35" font-size="10.4" font-weight="bold" stroke="#111" stroke-width="0.18" text-anchor="end" fill="#111" >10</text>
<text x="280.30" y="718.48" font-size="6.4" font-weight="bold" stroke="#111" stroke-width="0.18" text-anchor="start" fill="#111" >1</text>
<line x1="284.80" y1="702.05" x2="289.80" y2="702.05" stroke="#2a2a2a" stroke-width="1.4" />
<text x="278.90" y="706.37" font-size="10.4" font-weight="bold" stroke="#111" stroke-width="0.18" text-anchor="end" fill="#111" >10</text>
<text x="280.30" y="703.51" font-size="6.4" font-weight="bold" stroke="#111" stroke-width="0.18" text-anchor="start" fill="#111" >2</text>
<line x1="284.80" y1="687.08" x2="289.80" y2="687.08" stroke="#2a2a2a" stroke-width="1.4" />
<text x="278.90" y="691.40" font-size="10.4" font-weight="bold" stroke="#111" stroke-width="0.18" text-anchor="end" fill="#111" >10</text>
<text x="280.30" y="688.53" font-size="6.4" font-weight="bold" stroke="#111" stroke-width="0.18" text-anchor="start" fill="#111" >3</text>
<line x1="284.80" y1="672.10" x2="289.80" y2="672.10" stroke="#2a2a2a" stroke-width="1.4" />
<text x="278.90" y="676.42" font-size="10.4" font-weight="bold" stroke="#111" stroke-width="0.18" text-anchor="end" fill="#111" >10</text>
<text x="280.30" y="673.56" font-size="6.4" font-weight="bold" stroke="#111" stroke-width="0.18" text-anchor="start" fill="#111" >4</text>
<line x1="284.80" y1="657.12" x2="289.80" y2="657.12" stroke="#2a2a2a" stroke-width="1.4" />
<text x="278.90" y="661.45" font-size="10.4" font-weight="bold" stroke="#111" stroke-width="0.18" text-anchor="end" fill="#111" >10</text>
<text x="280.30" y="658.58" font-size="6.4" font-weight="bold" stroke="#111" stroke-width="0.18" text-anchor="start" fill="#111" >5</text>
<line x1="284.80" y1="642.15" x2="289.80" y2="642.15" stroke="#2a2a2a" stroke-width="1.4" />
<text x="278.90" y="646.47" font-size="10.4" font-weight="bold" stroke="#111" stroke-width="0.18" text-anchor="end" fill="#111" >10</text>
<text x="280.30" y="643.61" font-size="6.4" font-weight="bold" stroke="#111" stroke-width="0.18" text-anchor="start" fill="#111" >6</text>
<line x1="284.80" y1="627.18" x2="289.80" y2="627.18" stroke="#2a2a2a" stroke-width="1.4" />
<text x="278.90" y="631.50" font-size="10.4" font-weight="bold" stroke="#111" stroke-width="0.18" text-anchor="end" fill="#111" >10</text>
<text x="280.30" y="628.63" font-size="6.4" font-weight="bold" stroke="#111" stroke-width="0.18" text-anchor="start" fill="#111" >7</text>
<line x1="284.80" y1="612.20" x2="289.80" y2="612.20" stroke="#2a2a2a" stroke-width="1.4" />
<text x="278.90" y="616.52" font-size="10.4" font-weight="bold" stroke="#111" stroke-width="0.18" text-anchor="end" fill="#111" >10</text>
<text x="280.30" y="613.66" font-size="6.4" font-weight="bold" stroke="#111" stroke-width="0.18" text-anchor="start" fill="#111" >8</text>
<line x1="329.40" y1="732.00" x2="329.40" y2="736.80" stroke="#2a2a2a" stroke-width="1.4" />
<text x="329.40" y="747.70" font-size="10.0" font-weight="bold" stroke="#111" stroke-width="0.18" text-anchor="middle" fill="#111" >2</text>
<line x1="412.70" y1="732.00" x2="412.70" y2="736.80" stroke="#2a2a2a" stroke-width="1.4" />
<text x="412.70" y="747.70" font-size="10.0" font-weight="bold" stroke="#111" stroke-width="0.18" text-anchor="middle" fill="#111" >5</text>
<text x="370.55" y="761.70" font-size="10.1" font-weight="bold" stroke="#111" stroke-width="0.18" text-anchor="middle" fill="#111" >Days post-challenge</text>
<line x1="289.80" y1="721.50" x2="453.00" y2="721.50" stroke="#000" stroke-width="1.4" stroke-dasharray="1.3 2.3"/>
<ellipse cx="296.55" cy="721.50" rx="3.5" ry="2.1" fill="#ff1f1f"/>
<line x1="295.95" y1="721.50" x2="297.15" y2="721.50" stroke="#222" stroke-width="1.0" />
<rect x="303.90" y="719.40" width="7.2" height="4.2" rx="1.2" fill="#3ee022"/>
<line x1="306.90" y1="721.50" x2="308.10" y2="721.50" stroke="#222" stroke-width="1.0" />
<ellipse cx="318.45" cy="721.50" rx="3.4" ry="1.9" fill="#2020ff"/>
<line x1="317.85" y1="721.50" x2="319.05" y2="721.50" stroke="#222" stroke-width="1.0" />
<ellipse cx="329.40" cy="721.50" rx="3.1" ry="1.9" fill="#ff6222"/>
<line x1="328.80" y1="721.50" x2="330.00" y2="721.50" stroke="#222" stroke-width="1.0" />
<rect x="358.95" y="719.10" width="6.6" height="4.8" rx="2.2" fill="#000"/>
<ellipse cx="379.85" cy="721.50" rx="3.5" ry="2.1" fill="#ff1f1f"/>
<line x1="379.25" y1="721.50" x2="380.45" y2="721.50" stroke="#222" stroke-width="1.0" />
<rect x="387.20" y="719.40" width="7.2" height="4.2" rx="1.2" fill="#3ee022"/>
<line x1="390.20" y1="721.50" x2="391.40" y2="721.50" stroke="#222" stroke-width="1.0" />
<ellipse cx="401.75" cy="721.50" rx="3.4" ry="1.9" fill="#2020ff"/>
<line x1="401.15" y1="721.50" x2="402.35" y2="721.50" stroke="#222" stroke-width="1.0" />
<ellipse cx="412.70" cy="721.50" rx="3.1" ry="1.9" fill="#ff6222"/>
<line x1="412.10" y1="721.50" x2="413.30" y2="721.50" stroke="#222" stroke-width="1.0" />
<rect x="442.25" y="719.10" width="6.6" height="4.8" rx="2.2" fill="#000"/>
<line x1="296.55" y1="712.50" x2="329.40" y2="712.50" stroke="#5a5a5a" stroke-width="1.0" />
<line x1="296.55" y1="712.50" x2="296.55" y2="715.70" stroke="#5a5a5a" stroke-width="1.0" />
<line x1="307.50" y1="712.50" x2="307.50" y2="715.70" stroke="#5a5a5a" stroke-width="1.0" />
<line x1="318.45" y1="712.50" x2="318.45" y2="715.70" stroke="#5a5a5a" stroke-width="1.0" />
<line x1="329.40" y1="712.50" x2="329.40" y2="715.70" stroke="#5a5a5a" stroke-width="1.0" />
<line x1="313.28" y1="712.50" x2="313.28" y2="628.10" stroke="#5a5a5a" stroke-width="1.0" />
<line x1="313.28" y1="628.10" x2="345.82" y2="628.10" stroke="#5a5a5a" stroke-width="1.0" />
<line x1="345.82" y1="628.10" x2="345.82" y2="631.60" stroke="#5a5a5a" stroke-width="1.0" />
<line x1="340.35" y1="631.60" x2="351.30" y2="631.60" stroke="#5a5a5a" stroke-width="1.0" />
<line x1="340.35" y1="631.60" x2="340.35" y2="634.60" stroke="#5a5a5a" stroke-width="1.0" />
<line x1="351.30" y1="631.60" x2="351.30" y2="634.60" stroke="#5a5a5a" stroke-width="1.0" />
<rect x="323.59" y="621.00" width="2.40" height="2.40" rx="0.72" fill="#222"/>
<rect x="326.66" y="621.00" width="2.40" height="2.40" rx="0.72" fill="#222"/>
<rect x="329.73" y="621.00" width="2.40" height="2.40" rx="0.72" fill="#222"/>
<rect x="332.80" y="621.00" width="2.40" height="2.40" rx="0.72" fill="#222"/>
<line x1="379.85" y1="712.50" x2="412.70" y2="712.50" stroke="#5a5a5a" stroke-width="1.0" />
<line x1="379.85" y1="712.50" x2="379.85" y2="715.70" stroke="#5a5a5a" stroke-width="1.0" />
<line x1="390.80" y1="712.50" x2="390.80" y2="715.70" stroke="#5a5a5a" stroke-width="1.0" />
<line x1="401.75" y1="712.50" x2="401.75" y2="715.70" stroke="#5a5a5a" stroke-width="1.0" />
<line x1="412.70" y1="712.50" x2="412.70" y2="715.70" stroke="#5a5a5a" stroke-width="1.0" />
<line x1="396.57" y1="712.50" x2="396.57" y2="656.30" stroke="#5a5a5a" stroke-width="1.0" />
<line x1="396.57" y1="656.30" x2="429.12" y2="656.30" stroke="#5a5a5a" stroke-width="1.0" />
<line x1="429.12" y1="656.30" x2="429.12" y2="660.20" stroke="#5a5a5a" stroke-width="1.0" />
<line x1="423.65" y1="660.20" x2="434.60" y2="660.20" stroke="#5a5a5a" stroke-width="1.0" />
<line x1="423.65" y1="660.20" x2="423.65" y2="663.20" stroke="#5a5a5a" stroke-width="1.0" />
<line x1="434.60" y1="660.20" x2="434.60" y2="663.20" stroke="#5a5a5a" stroke-width="1.0" />
<rect x="406.89" y="649.10" width="2.40" height="2.40" rx="0.72" fill="#222"/>
<rect x="409.96" y="649.10" width="2.40" height="2.40" rx="0.72" fill="#222"/>
<rect x="413.03" y="649.10" width="2.40" height="2.40" rx="0.72" fill="#222"/>
<rect x="416.10" y="649.10" width="2.40" height="2.40" rx="0.72" fill="#222"/>
<line x1="340.35" y1="637.30" x2="340.35" y2="649.00" stroke="#333" stroke-width="0.9" />
<line x1="338.10" y1="637.30" x2="342.60" y2="637.30" stroke="#333" stroke-width="0.9" />
<line x1="338.10" y1="649.00" x2="342.60" y2="649.00" stroke="#333" stroke-width="0.9" />
<rect x="336.25" y="635.60" width="5.00" height="5.00" fill="#cc1aff" stroke="none" stroke-width="0" />
<rect x="339.45" y="636.10" width="5.00" height="5.00" fill="#cc1aff" stroke="none" stroke-width="0" />
<rect x="337.85" y="639.30" width="5.00" height="5.00" fill="#cc1aff" stroke="none" stroke-width="0" />
<rect x="336.65" y="642.50" width="5.00" height="5.00" fill="#cc1aff" stroke="none" stroke-width="0" />
<rect x="337.85" y="649.80" width="5.00" height="5.00" fill="#cc1aff" stroke="none" stroke-width="0" />
<line x1="336.35" y1="642.60" x2="344.35" y2="642.60" stroke="#cc1aff" stroke-width="1.5" />
<line x1="351.30" y1="641.00" x2="351.30" y2="647.80" stroke="#333" stroke-width="0.9" />
<line x1="349.05" y1="641.00" x2="353.55" y2="641.00" stroke="#333" stroke-width="0.9" />
<line x1="349.05" y1="647.80" x2="353.55" y2="647.80" stroke="#333" stroke-width="0.9" />
<path d="M348.80,643.55 L353.80,643.55 L351.30,639.05 Z" fill="#5a9cff"/>
<path d="M347.20,646.65 L352.20,646.65 L349.70,642.15 Z" fill="#5a9cff"/>
<path d="M350.40,646.65 L355.40,646.65 L352.90,642.15 Z" fill="#5a9cff"/>
<path d="M348.80,650.05 L353.80,650.05 L351.30,645.55 Z" fill="#5a9cff"/>
<line x1="347.30" y1="644.40" x2="355.30" y2="644.40" stroke="#5a9cff" stroke-width="1.5" />
<line x1="423.65" y1="668.90" x2="423.65" y2="687.30" stroke="#333" stroke-width="0.9" />
<line x1="421.40" y1="668.90" x2="425.90" y2="668.90" stroke="#333" stroke-width="0.9" />
<line x1="421.40" y1="687.30" x2="425.90" y2="687.30" stroke="#333" stroke-width="0.9" />
<rect x="419.55" y="669.00" width="5.00" height="5.00" fill="#cc1aff" stroke="none" stroke-width="0" />
<rect x="422.75" y="669.30" width="5.00" height="5.00" fill="#cc1aff" stroke="none" stroke-width="0" />
<rect x="421.15" y="675.60" width="5.00" height="5.00" fill="#cc1aff" stroke="none" stroke-width="0" />
<rect x="421.15" y="689.20" width="5.00" height="5.00" fill="#cc1aff" stroke="none" stroke-width="0" />
<line x1="419.65" y1="678.10" x2="427.65" y2="678.10" stroke="#cc1aff" stroke-width="1.5" />
<line x1="434.60" y1="668.90" x2="434.60" y2="675.40" stroke="#333" stroke-width="0.9" />
<line x1="432.35" y1="668.90" x2="436.85" y2="668.90" stroke="#333" stroke-width="0.9" />
<line x1="432.35" y1="675.40" x2="436.85" y2="675.40" stroke="#333" stroke-width="0.9" />
<path d="M432.10,671.15 L437.10,671.15 L434.60,666.65 Z" fill="#5a9cff"/>
<path d="M430.50,674.55 L435.50,674.55 L433.00,670.05 Z" fill="#5a9cff"/>
<path d="M433.70,674.55 L438.70,674.55 L436.20,670.05 Z" fill="#5a9cff"/>
<path d="M432.10,677.65 L437.10,677.65 L434.60,673.15 Z" fill="#5a9cff"/>
<line x1="430.60" y1="672.30" x2="438.60" y2="672.30" stroke="#5a9cff" stroke-width="1.5" />
<circle cx="468.90" cy="628.20" r="1.80" fill="#ff1f1f"/>
<text x="483.00" y="631.20" font-size="8.4" stroke="#222" stroke-width="0.18" text-anchor="start" fill="#222" >MVA-S(3P) / MVA-S(3P)</text>
<rect x="467.25" y="639.97" width="3.30" height="3.30" fill="#3ee022" stroke="none" stroke-width="0" />
<text x="483.00" y="644.62" font-size="8.4" stroke="#222" stroke-width="0.18" text-anchor="start" fill="#222" >NDV-HXP-S / NDV-HXP-S</text>
<path d="M467.10,656.66 L470.70,656.66 L468.90,653.42 Z" fill="#2020ff"/>
<text x="483.00" y="658.04" font-size="8.4" stroke="#222" stroke-width="0.18" text-anchor="start" fill="#222" >MVA-S(3P) / NDV-HXP-S</text>
<path d="M467.40,668.46 L468.90,666.96 L470.40,668.46 L468.90,669.96 Z" fill="#ff6222"/>
<text x="483.00" y="671.46" font-size="8.4" stroke="#222" stroke-width="0.18" text-anchor="start" fill="#222" >NDV-HXP-S / MVA-S(3P)</text>
<rect x="467.10" y="680.08" width="3.60" height="3.60" fill="#cc1aff" stroke="none" stroke-width="0" />
<text x="483.00" y="684.88" font-size="8.4" stroke="#222" stroke-width="0.18" text-anchor="start" fill="#222" >MVA-WT / MVA-WT</text>
<path d="M467.20,696.83 L470.60,696.83 L468.90,693.77 Z" fill="#5a9cff"/>
<text x="483.00" y="698.30" font-size="8.4" stroke="#222" stroke-width="0.18" text-anchor="start" fill="#222" >NDV-WT / NDV-WT</text>
<circle cx="468.90" cy="708.72" r="2.00" fill="#000"/>
<text x="483.00" y="711.72" font-size="8.4" stroke="#222" stroke-width="0.18" text-anchor="start" fill="#222" >Healthy control</text>
<text x="0" y="0" transform="translate(4.50,787.60) scale(1,1.07)" font-size="22.6" font-weight="bold" stroke="#000" stroke-width="0.18" text-anchor="start" fill="#000" >F</text>
<line x1="53.70" y1="794.00" x2="53.70" y2="915.90" stroke="#111" stroke-width="1.8" />
<line x1="52.80" y1="915.00" x2="438.80" y2="915.00" stroke="#111" stroke-width="1.8" />
<line x1="48.20" y1="915.00" x2="53.70" y2="915.00" stroke="#111" stroke-width="1.4" />
<text x="0" y="0" transform="translate(46.90,920.20) scale(1,1.2)" font-size="9.3" font-weight="bold" stroke="#111" stroke-width="0.18" text-anchor="end" fill="#111" >0</text>
<line x1="48.20" y1="890.92" x2="53.70" y2="890.92" stroke="#111" stroke-width="1.4" />
<text x="0" y="0" transform="translate(46.90,896.12) scale(1,1.2)" font-size="9.3" font-weight="bold" stroke="#111" stroke-width="0.18" text-anchor="end" fill="#111" >5</text>
<line x1="48.20" y1="866.84" x2="53.70" y2="866.84" stroke="#111" stroke-width="1.4" />
<text x="0" y="0" transform="translate(46.90,872.04) scale(1,1.2)" font-size="9.3" font-weight="bold" stroke="#111" stroke-width="0.18" text-anchor="end" fill="#111" >10</text>
<line x1="48.20" y1="842.76" x2="53.70" y2="842.76" stroke="#111" stroke-width="1.4" />
<text x="0" y="0" transform="translate(46.90,847.96) scale(1,1.2)" font-size="9.3" font-weight="bold" stroke="#111" stroke-width="0.18" text-anchor="end" fill="#111" >15</text>
<line x1="48.20" y1="818.68" x2="53.70" y2="818.68" stroke="#111" stroke-width="1.4" />
<text x="0" y="0" transform="translate(46.90,823.88) scale(1,1.2)" font-size="9.3" font-weight="bold" stroke="#111" stroke-width="0.18" text-anchor="end" fill="#111" >20</text>
<line x1="48.20" y1="794.60" x2="53.70" y2="794.60" stroke="#111" stroke-width="1.4" />
<text x="0" y="0" transform="translate(46.90,799.80) scale(1,1.2)" font-size="9.3" font-weight="bold" stroke="#111" stroke-width="0.18" text-anchor="end" fill="#111" >25</text>
<line x1="75.80" y1="915.00" x2="75.80" y2="920.20" stroke="#111" stroke-width="1.4" />
<text x="75.80" y="929.40" font-size="8.2" font-weight="bold" stroke="#111" stroke-width="0.18" text-anchor="middle" fill="#111" >MVA-S(3P) /</text>
<text x="75.80" y="938.50" font-size="8.2" font-weight="bold" stroke="#111" stroke-width="0.18" text-anchor="middle" fill="#111" >MVA-S(3P)</text>
<line x1="132.40" y1="915.00" x2="132.40" y2="920.20" stroke="#111" stroke-width="1.4" />
<text x="132.40" y="929.40" font-size="8.2" font-weight="bold" stroke="#111" stroke-width="0.18" text-anchor="middle" fill="#111" >NDV-HXP-S /</text>
<text x="132.40" y="938.50" font-size="8.2" font-weight="bold" stroke="#111" stroke-width="0.18" text-anchor="middle" fill="#111" >NDV-HXP-S</text>
<line x1="189.00" y1="915.00" x2="189.00" y2="920.20" stroke="#111" stroke-width="1.4" />
<text x="189.00" y="929.40" font-size="8.2" font-weight="bold" stroke="#111" stroke-width="0.18" text-anchor="middle" fill="#111" >MVA-S(3P) /</text>
<text x="189.00" y="938.50" font-size="8.2" font-weight="bold" stroke="#111" stroke-width="0.18" text-anchor="middle" fill="#111" >NDV-HXP-S</text>
<line x1="245.60" y1="915.00" x2="245.60" y2="920.20" stroke="#111" stroke-width="1.4" />
<text x="245.60" y="929.40" font-size="8.2" font-weight="bold" stroke="#111" stroke-width="0.18" text-anchor="middle" fill="#111" >NDV-HXP-S /</text>
<text x="245.60" y="938.50" font-size="8.2" font-weight="bold" stroke="#111" stroke-width="0.18" text-anchor="middle" fill="#111" >MVA-S(3P)</text>
<line x1="302.20" y1="915.00" x2="302.20" y2="920.20" stroke="#111" stroke-width="1.4" />
<text x="302.20" y="929.40" font-size="8.2" font-weight="bold" stroke="#111" stroke-width="0.18" text-anchor="middle" fill="#111" >MVA-WT /</text>
<text x="302.20" y="938.50" font-size="8.2" font-weight="bold" stroke="#111" stroke-width="0.18" text-anchor="middle" fill="#111" >MVA-WT</text>
<line x1="358.80" y1="915.00" x2="358.80" y2="920.20" stroke="#111" stroke-width="1.4" />
<text x="358.80" y="929.40" font-size="8.2" font-weight="bold" stroke="#111" stroke-width="0.18" text-anchor="middle" fill="#111" >NDV-WT /</text>
<text x="358.80" y="938.50" font-size="8.2" font-weight="bold" stroke="#111" stroke-width="0.18" text-anchor="middle" fill="#111" >NDV-WT</text>
<line x1="415.40" y1="915.00" x2="415.40" y2="920.20" stroke="#111" stroke-width="1.4" />
<text x="415.40" y="929.40" font-size="8.2" font-weight="bold" stroke="#111" stroke-width="0.18" text-anchor="middle" fill="#111" >Healthy</text>
<text x="415.40" y="938.50" font-size="8.2" font-weight="bold" stroke="#111" stroke-width="0.18" text-anchor="middle" fill="#111" >control</text>
<text x="0.00" y="0.00" font-size="10.1" font-weight="bold" stroke="#111" stroke-width="0.18" text-anchor="middle" fill="#111" transform="translate(18.5,854.2) rotate(-90)">Lung histopathological</text>
<text x="0.00" y="0.00" font-size="10.1" font-weight="bold" stroke="#111" stroke-width="0.18" text-anchor="middle" fill="#111" transform="translate(29.9,854.8) rotate(-90)">lesion score (Day 5 pc)</text>
<line x1="53.70" y1="905.40" x2="438.80" y2="905.40" stroke="#222" stroke-width="1.0" stroke-dasharray="1.2 1.8"/>
<line x1="75.80" y1="896.70" x2="75.80" y2="906.20" stroke="#222" stroke-width="1.0" />
<line x1="70.55" y1="896.70" x2="81.05" y2="896.70" stroke="#222" stroke-width="1.0" />
<line x1="70.55" y1="906.20" x2="81.05" y2="906.20" stroke="#222" stroke-width="1.0" />
<circle cx="67.30" cy="905.30" r="2.90" fill="#ff1f1f"/>
<circle cx="75.50" cy="900.40" r="2.90" fill="#ff1f1f"/>
<circle cx="84.10" cy="895.80" r="2.90" fill="#ff1f1f"/>
<circle cx="84.10" cy="905.30" r="2.90" fill="#ff1f1f"/>
<line x1="64.30" y1="901.90" x2="87.30" y2="901.90" stroke="#ff1f1f" stroke-width="1.5" />
<rect x="120.90" y="902.20" width="23.00" height="5.90" fill="#3ee022" stroke="none" stroke-width="0" />
<line x1="189.10" y1="890.60" x2="189.10" y2="909.90" stroke="#222" stroke-width="1.0" />
<line x1="183.85" y1="890.60" x2="194.35" y2="890.60" stroke="#222" stroke-width="1.0" />
<line x1="183.85" y1="909.90" x2="194.35" y2="909.90" stroke="#222" stroke-width="1.0" />
<path d="M185.10,889.57 L191.70,889.57 L188.40,883.63 Z" fill="#2020ff"/>
<path d="M177.40,908.57 L184.00,908.57 L180.70,902.63 Z" fill="#2020ff"/>
<path d="M186.00,908.57 L192.60,908.57 L189.30,902.63 Z" fill="#2020ff"/>
<path d="M193.60,908.57 L200.20,908.57 L196.90,902.63 Z" fill="#2020ff"/>
<line x1="177.60" y1="900.40" x2="200.60" y2="900.40" stroke="#2020ff" stroke-width="1.5" />
<line x1="245.70" y1="901.30" x2="245.70" y2="909.90" stroke="#222" stroke-width="1.0" />
<line x1="240.45" y1="901.30" x2="250.95" y2="901.30" stroke="#222" stroke-width="1.0" />
<line x1="240.45" y1="909.90" x2="250.95" y2="909.90" stroke="#222" stroke-width="1.0" />
<path d="M235.00,900.40 L238.00,897.40 L241.00,900.40 L238.00,903.40 Z" fill="#ff6222"/>
<path d="M242.70,905.00 L245.70,902.00 L248.70,905.00 L245.70,908.00 Z" fill="#ff6222"/>
<path d="M250.70,905.00 L253.70,902.00 L256.70,905.00 L253.70,908.00 Z" fill="#ff6222"/>
<path d="M235.00,911.10 L238.00,908.10 L241.00,911.10 L238.00,914.10 Z" fill="#ff6222"/>
<line x1="234.20" y1="905.00" x2="257.20" y2="905.00" stroke="#ff6222" stroke-width="1.5" />
<line x1="302.30" y1="817.20" x2="302.30" y2="842.00" stroke="#222" stroke-width="1.0" />
<line x1="297.05" y1="817.20" x2="307.55" y2="817.20" stroke="#222" stroke-width="1.0" />
<line x1="297.05" y1="842.00" x2="307.55" y2="842.00" stroke="#222" stroke-width="1.0" />
<rect x="291.10" y="820.90" width="6.00" height="6.00" fill="#cc1aff" stroke="none" stroke-width="0" />
<rect x="308.00" y="816.00" width="6.00" height="6.00" fill="#cc1aff" stroke="none" stroke-width="0" />
<rect x="308.00" y="825.40" width="6.00" height="6.00" fill="#cc1aff" stroke="none" stroke-width="0" />
<rect x="299.30" y="844.50" width="6.00" height="6.00" fill="#cc1aff" stroke="none" stroke-width="0" />
<line x1="291.15" y1="829.60" x2="313.45" y2="829.60" stroke="#cc1aff" stroke-width="1.5" />
<line x1="358.90" y1="815.50" x2="358.90" y2="829.60" stroke="#222" stroke-width="1.0" />
<line x1="353.65" y1="815.50" x2="364.15" y2="815.50" stroke="#222" stroke-width="1.0" />
<line x1="353.65" y1="829.60" x2="364.15" y2="829.60" stroke="#222" stroke-width="1.0" />
<path d="M347.30,822.76 L354.10,822.76 L350.70,816.64 Z" fill="#5a9cff"/>
<path d="M364.10,817.06 L370.90,817.06 L367.50,810.94 Z" fill="#5a9cff"/>
<path d="M347.30,832.66 L354.10,832.66 L350.70,826.54 Z" fill="#5a9cff"/>
<path d="M364.10,832.66 L370.90,832.66 L367.50,826.54 Z" fill="#5a9cff"/>
<line x1="347.90" y1="822.20" x2="369.90" y2="822.20" stroke="#5a9cff" stroke-width="1.5" />
<line x1="415.30" y1="901.00" x2="415.30" y2="904.80" stroke="#222" stroke-width="1.0" />
<line x1="411.30" y1="901.00" x2="419.30" y2="901.00" stroke="#222" stroke-width="1.0" />
<line x1="411.30" y1="904.80" x2="419.30" y2="904.80" stroke="#222" stroke-width="1.0" />
<circle cx="407.30" cy="904.80" r="2.60" fill="#000"/>
<circle cx="413.20" cy="900.10" r="2.60" fill="#000"/>
<circle cx="418.40" cy="905.30" r="2.60" fill="#000"/>
<circle cx="423.90" cy="900.90" r="2.60" fill="#000"/>
<line x1="404.10" y1="902.90" x2="426.50" y2="902.90" stroke="#000" stroke-width="1.5" />
<line x1="75.70" y1="854.60" x2="245.60" y2="854.60" stroke="#5a5a5a" stroke-width="1.0" />
<line x1="75.70" y1="854.60" x2="75.70" y2="861.60" stroke="#5a5a5a" stroke-width="1.0" />
<line x1="245.60" y1="854.60" x2="245.60" y2="861.60" stroke="#5a5a5a" stroke-width="1.0" />
<line x1="160.80" y1="854.60" x2="160.80" y2="791.80" stroke="#5a5a5a" stroke-width="1.0" />
<line x1="160.80" y1="791.80" x2="334.00" y2="791.80" stroke="#5a5a5a" stroke-width="1.0" />
<line x1="334.00" y1="791.80" x2="334.00" y2="797.90" stroke="#5a5a5a" stroke-width="1.0" />
<line x1="302.30" y1="797.90" x2="359.20" y2="797.90" stroke="#5a5a5a" stroke-width="1.0" />
<line x1="302.30" y1="797.90" x2="302.30" y2="804.80" stroke="#5a5a5a" stroke-width="1.0" />
<line x1="359.20" y1="797.90" x2="359.20" y2="804.80" stroke="#5a5a5a" stroke-width="1.0" />
<text x="239.30" y="790.18" font-size="9.11" font-weight="bold" text-anchor="middle" fill="#111">*</text>
<text x="244.30" y="790.18" font-size="9.11" font-weight="bold" text-anchor="middle" fill="#111">*</text>
<text x="249.30" y="790.18" font-size="9.11" font-weight="bold" text-anchor="middle" fill="#111">*</text>
<text x="254.30" y="790.18" font-size="9.11" font-weight="bold" text-anchor="middle" fill="#111">*</text>
</svg></body></html>
